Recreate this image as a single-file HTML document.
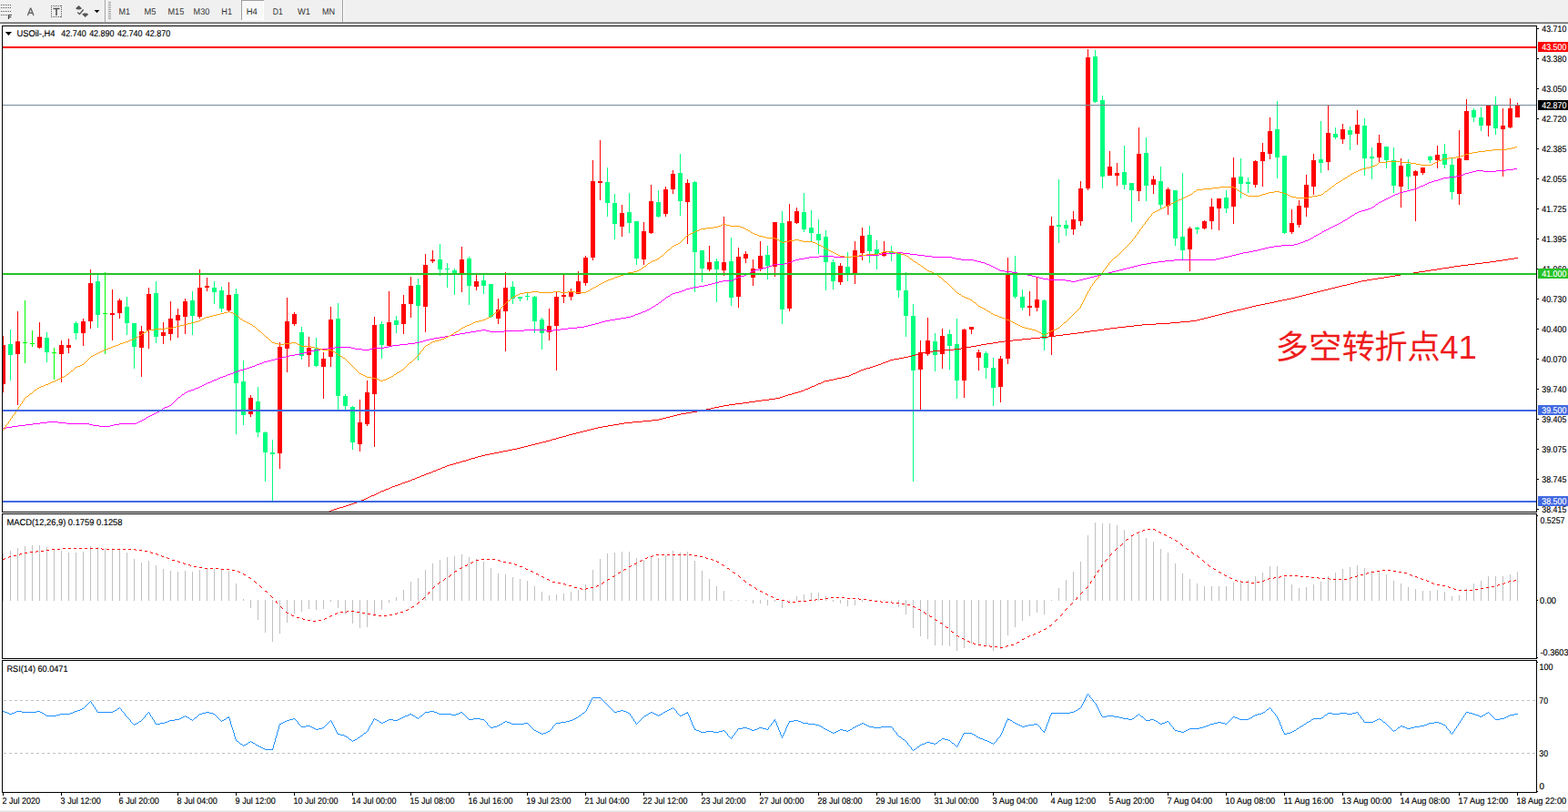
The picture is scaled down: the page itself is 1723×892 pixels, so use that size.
<!DOCTYPE html>
<html><head><meta charset="utf-8"><title>USOil-,H4</title>
<style>html,body{margin:0;padding:0;background:#fff;overflow:hidden}body{width:1723px;height:892px;font-family:"Liberation Sans",sans-serif}svg{display:block;position:absolute;left:0;top:0}text{font-family:"Liberation Sans",sans-serif;text-rendering:geometricPrecision}</style>
</head><body>
<svg width="1723" height="892" viewBox="0 0 1723 892">
<rect x="0" y="0" width="1723" height="892" fill="#ffffff"/>
<g shape-rendering="crispEdges">
<rect x="0" y="0" width="1723" height="24" fill="#f0f0f0"/>
<rect x="0" y="23" width="1723" height="1" fill="#f6f6f6"/>
<rect x="0" y="24" width="1723" height="1" fill="#a0a0a0"/>
<rect x="0" y="25" width="1723" height="1" fill="#696969"/>
<rect x="115" y="0" width="1" height="24" fill="#a0a0a0"/><rect x="116" y="0" width="1" height="24" fill="#ffffff"/>
<rect x="376" y="0" width="1" height="24" fill="#a0a0a0"/><rect x="377" y="0" width="1" height="24" fill="#ffffff"/>
<rect x="119" y="2" width="3" height="1" fill="#a0a0a0"/>
<rect x="119" y="4" width="3" height="1" fill="#a0a0a0"/>
<rect x="119" y="6" width="3" height="1" fill="#a0a0a0"/>
<rect x="119" y="8" width="3" height="1" fill="#a0a0a0"/>
<rect x="119" y="10" width="3" height="1" fill="#a0a0a0"/>
<rect x="119" y="12" width="3" height="1" fill="#a0a0a0"/>
<rect x="119" y="14" width="3" height="1" fill="#a0a0a0"/>
<rect x="119" y="16" width="3" height="1" fill="#a0a0a0"/>
<rect x="119" y="18" width="3" height="1" fill="#a0a0a0"/>
<rect x="119" y="20" width="3" height="1" fill="#a0a0a0"/>
<rect x="265" y="0" width="25" height="22" fill="#f8f8f8"/>
<rect x="265" y="0" width="25" height="1" fill="#a0a0a0"/><rect x="265" y="0" width="1" height="22" fill="#a0a0a0"/>
<rect x="289" y="1" width="1" height="21" fill="#ffffff"/><rect x="266" y="21" width="24" height="1" fill="#ffffff"/>
<rect x="1" y="5" width="1" height="1" fill="#555"/>
<rect x="3" y="5" width="1" height="1" fill="#555"/>
<rect x="5" y="5" width="1" height="1" fill="#555"/>
<rect x="7" y="5" width="1" height="1" fill="#555"/>
<rect x="9" y="5" width="1" height="1" fill="#555"/>
<rect x="11" y="5" width="1" height="1" fill="#555"/>
<rect x="1" y="8" width="1" height="1" fill="#555"/>
<rect x="3" y="8" width="1" height="1" fill="#555"/>
<rect x="5" y="8" width="1" height="1" fill="#555"/>
<rect x="7" y="8" width="1" height="1" fill="#555"/>
<rect x="9" y="8" width="1" height="1" fill="#555"/>
<rect x="11" y="8" width="1" height="1" fill="#555"/>
<rect x="1" y="12" width="1" height="1" fill="#555"/>
<rect x="3" y="12" width="1" height="1" fill="#555"/>
<rect x="5" y="12" width="1" height="1" fill="#555"/>
<rect x="7" y="12" width="1" height="1" fill="#555"/>
<rect x="9" y="12" width="1" height="1" fill="#555"/>
<rect x="11" y="12" width="1" height="1" fill="#555"/>
<rect x="1" y="16" width="1" height="1" fill="#555"/>
<rect x="3" y="16" width="1" height="1" fill="#555"/>
<rect x="5" y="16" width="1" height="1" fill="#555"/>
<rect x="7" y="16" width="1" height="1" fill="#555"/>
<rect x="56" y="6" width="1" height="1" fill="#555"/><rect x="56" y="18" width="1" height="1" fill="#555"/>
<rect x="58" y="6" width="1" height="1" fill="#555"/><rect x="58" y="18" width="1" height="1" fill="#555"/>
<rect x="60" y="6" width="1" height="1" fill="#555"/><rect x="60" y="18" width="1" height="1" fill="#555"/>
<rect x="62" y="6" width="1" height="1" fill="#555"/><rect x="62" y="18" width="1" height="1" fill="#555"/>
<rect x="64" y="6" width="1" height="1" fill="#555"/><rect x="64" y="18" width="1" height="1" fill="#555"/>
<rect x="66" y="6" width="1" height="1" fill="#555"/><rect x="66" y="18" width="1" height="1" fill="#555"/>
<rect x="56" y="6" width="1" height="1" fill="#555"/><rect x="67" y="6" width="1" height="1" fill="#555"/>
<rect x="56" y="8" width="1" height="1" fill="#555"/><rect x="67" y="8" width="1" height="1" fill="#555"/>
<rect x="56" y="10" width="1" height="1" fill="#555"/><rect x="67" y="10" width="1" height="1" fill="#555"/>
<rect x="56" y="12" width="1" height="1" fill="#555"/><rect x="67" y="12" width="1" height="1" fill="#555"/>
<rect x="56" y="14" width="1" height="1" fill="#555"/><rect x="67" y="14" width="1" height="1" fill="#555"/>
<rect x="56" y="16" width="1" height="1" fill="#555"/><rect x="67" y="16" width="1" height="1" fill="#555"/>
<rect x="56" y="18" width="1" height="1" fill="#555"/><rect x="67" y="18" width="1" height="1" fill="#555"/>
</g>
<path d="M9.5 21V16.5H13M9.5 18.7H12.3" stroke="#444" stroke-width="1.2" fill="none"/>
<path d="M30.4 17 L33.7 8.8 L37 17 M31.6 14.3 H35.8" stroke="#666" stroke-width="1.4" stroke-linejoin="bevel" fill="none"/>
<path d="M58.5 9.5 H65.5 M62 9.5 V17" stroke="#555" stroke-width="1.6" fill="none"/>
<path d="M83 9.2 L86.5 5.9 L90.1 9.2 L88 10.4 L85 10.4 Z" fill="#555"/>
<path d="M90.2 15.8 L92 14.5 L95.5 14.5 L97.2 15.8 L93.7 19 Z" fill="#555"/>
<path d="M85.2 13.6 L87.5 15.5 L91.7 10.5" stroke="#555" stroke-width="1.3" fill="none"/>
<path d="M103.5 11 H109.5 L106.5 14.2 Z" fill="#111"/>
<text x="130.5" y="16" font-size="9.8" fill="#333" textLength="12.5" lengthAdjust="spacingAndGlyphs">M1</text>
<text x="158.5" y="16" font-size="9.8" fill="#333" textLength="12.9" lengthAdjust="spacingAndGlyphs">M5</text>
<text x="184.5" y="16" font-size="9.8" fill="#333" textLength="17.8" lengthAdjust="spacingAndGlyphs">M15</text>
<text x="212.6" y="16" font-size="9.8" fill="#333" textLength="17.7" lengthAdjust="spacingAndGlyphs">M30</text>
<text x="243.3" y="16" font-size="9.8" fill="#333" textLength="11.7" lengthAdjust="spacingAndGlyphs">H1</text>
<text x="270.7" y="16" font-size="9.8" fill="#333" textLength="12.1" lengthAdjust="spacingAndGlyphs">H4</text>
<text x="299.8" y="16" font-size="9.8" fill="#333" textLength="11.0" lengthAdjust="spacingAndGlyphs">D1</text>
<text x="327" y="16" font-size="9.8" fill="#333" textLength="14.0" lengthAdjust="spacingAndGlyphs">W1</text>
<text x="354" y="16" font-size="9.8" fill="#333" textLength="14.1" lengthAdjust="spacingAndGlyphs">MN</text>
<g shape-rendering="crispEdges" fill="#000">
<rect x="2" y="28" width="1687" height="1"/>
<rect x="2" y="562" width="1687" height="1"/>
<rect x="2" y="28" width="1" height="535"/>
<rect x="1688" y="28" width="1" height="535"/>
<rect x="2" y="564" width="1687" height="1"/>
<rect x="2" y="723" width="1687" height="1"/>
<rect x="2" y="564" width="1" height="160"/>
<rect x="1688" y="564" width="1" height="160"/>
<rect x="2" y="725" width="1687" height="1"/>
<rect x="2" y="870" width="1687" height="1"/>
<rect x="2" y="725" width="1" height="146"/>
<rect x="1688" y="725" width="1" height="146"/>
<rect x="1689" y="31" width="2" height="1"/>
<rect x="1689" y="64" width="2" height="1"/>
<rect x="1689" y="97" width="2" height="1"/>
<rect x="1689" y="130" width="2" height="1"/>
<rect x="1689" y="163" width="2" height="1"/>
<rect x="1689" y="196" width="2" height="1"/>
<rect x="1689" y="229" width="2" height="1"/>
<rect x="1689" y="262" width="2" height="1"/>
<rect x="1689" y="295" width="2" height="1"/>
<rect x="1689" y="328" width="2" height="1"/>
<rect x="1689" y="361" width="2" height="1"/>
<rect x="1689" y="394" width="2" height="1"/>
<rect x="1689" y="427" width="2" height="1"/>
<rect x="1689" y="460" width="2" height="1"/>
<rect x="1689" y="493" width="2" height="1"/>
<rect x="1689" y="526" width="2" height="1"/>
<rect x="1689" y="559" width="2" height="1"/>
<rect x="1689" y="566" width="1" height="1"/>
<rect x="1689" y="659" width="1" height="1"/>
<rect x="1689" y="722" width="1" height="1"/>
<rect x="1689" y="727" width="1" height="1"/>
<rect x="1689" y="869" width="1" height="1"/>
<rect x="3" y="871" width="1" height="3"/>
<rect x="67" y="871" width="1" height="3"/>
<rect x="131" y="871" width="1" height="3"/>
<rect x="195" y="871" width="1" height="3"/>
<rect x="259" y="871" width="1" height="3"/>
<rect x="323" y="871" width="1" height="3"/>
<rect x="387" y="871" width="1" height="3"/>
<rect x="451" y="871" width="1" height="3"/>
<rect x="515" y="871" width="1" height="3"/>
<rect x="579" y="871" width="1" height="3"/>
<rect x="643" y="871" width="1" height="3"/>
<rect x="707" y="871" width="1" height="3"/>
<rect x="771" y="871" width="1" height="3"/>
<rect x="835" y="871" width="1" height="3"/>
<rect x="899" y="871" width="1" height="3"/>
<rect x="963" y="871" width="1" height="3"/>
<rect x="1027" y="871" width="1" height="3"/>
<rect x="1091" y="871" width="1" height="3"/>
<rect x="1155" y="871" width="1" height="3"/>
<rect x="1219" y="871" width="1" height="3"/>
<rect x="1283" y="871" width="1" height="3"/>
<rect x="1347" y="871" width="1" height="3"/>
<rect x="1411" y="871" width="1" height="3"/>
<rect x="1475" y="871" width="1" height="3"/>
<rect x="1539" y="871" width="1" height="3"/>
<rect x="1603" y="871" width="1" height="3"/>
<rect x="1667" y="871" width="1" height="3"/>
</g>
<rect x="0" y="890" width="1723" height="1" fill="#f3f3f3"/><rect x="0" y="891" width="1723" height="1" fill="#e1e1e1"/>
<g shape-rendering="crispEdges">
<rect x="3" y="369" width="1" height="62" fill="#ff0000"/>
<rect x="3" y="379" width="3" height="43" fill="#ff0000"/>
<rect x="11" y="362" width="1" height="56" fill="#00ff7f"/>
<rect x="9" y="378" width="5" height="12" fill="#00ff7f"/>
<rect x="19" y="342" width="1" height="103" fill="#ff0000"/>
<rect x="17" y="375" width="5" height="14" fill="#ff0000"/>
<rect x="27" y="330" width="1" height="69" fill="#00ff00"/>
<rect x="25" y="376" width="5" height="1" fill="#00ff00"/>
<rect x="35" y="363" width="1" height="18" fill="#00ff00"/>
<rect x="33" y="377" width="5" height="1" fill="#00ff00"/>
<rect x="43" y="354" width="1" height="29" fill="#ff0000"/>
<rect x="41" y="370" width="5" height="12" fill="#ff0000"/>
<rect x="51" y="365" width="1" height="33" fill="#00ff7f"/>
<rect x="49" y="371" width="5" height="16" fill="#00ff7f"/>
<rect x="59" y="382" width="1" height="35" fill="#00ff00"/>
<rect x="57" y="387" width="5" height="1" fill="#00ff00"/>
<rect x="67" y="374" width="1" height="46" fill="#ff0000"/>
<rect x="65" y="379" width="5" height="10" fill="#ff0000"/>
<rect x="75" y="372" width="1" height="16" fill="#ff0000"/>
<rect x="73" y="379" width="5" height="3" fill="#ff0000"/>
<rect x="83" y="353" width="1" height="20" fill="#00ff7f"/>
<rect x="81" y="355" width="5" height="11" fill="#00ff7f"/>
<rect x="91" y="350" width="1" height="30" fill="#ff0000"/>
<rect x="89" y="353" width="5" height="13" fill="#ff0000"/>
<rect x="99" y="296" width="1" height="65" fill="#ff0000"/>
<rect x="97" y="311" width="5" height="42" fill="#ff0000"/>
<rect x="107" y="302" width="1" height="58" fill="#00ff7f"/>
<rect x="105" y="309" width="5" height="37" fill="#00ff7f"/>
<rect x="115" y="299" width="1" height="90" fill="#00ff00"/>
<rect x="113" y="344" width="5" height="1" fill="#00ff00"/>
<rect x="123" y="318" width="1" height="56" fill="#ff0000"/>
<rect x="121" y="344" width="5" height="2" fill="#ff0000"/>
<rect x="131" y="328" width="1" height="22" fill="#ff0000"/>
<rect x="129" y="330" width="5" height="14" fill="#ff0000"/>
<rect x="139" y="326" width="1" height="42" fill="#00ff7f"/>
<rect x="137" y="337" width="5" height="18" fill="#00ff7f"/>
<rect x="147" y="355" width="1" height="50" fill="#00ff7f"/>
<rect x="145" y="355" width="5" height="26" fill="#00ff7f"/>
<rect x="155" y="358" width="1" height="56" fill="#ff0000"/>
<rect x="153" y="364" width="5" height="18" fill="#ff0000"/>
<rect x="163" y="316" width="1" height="67" fill="#ff0000"/>
<rect x="161" y="323" width="5" height="40" fill="#ff0000"/>
<rect x="171" y="309" width="1" height="68" fill="#00ff7f"/>
<rect x="169" y="322" width="5" height="48" fill="#00ff7f"/>
<rect x="179" y="354" width="1" height="24" fill="#ff0000"/>
<rect x="177" y="365" width="5" height="4" fill="#ff0000"/>
<rect x="187" y="331" width="1" height="43" fill="#ff0000"/>
<rect x="185" y="350" width="5" height="17" fill="#ff0000"/>
<rect x="195" y="339" width="1" height="32" fill="#ff0000"/>
<rect x="193" y="346" width="5" height="6" fill="#ff0000"/>
<rect x="203" y="328" width="1" height="39" fill="#ff0000"/>
<rect x="201" y="331" width="5" height="17" fill="#ff0000"/>
<rect x="211" y="320" width="1" height="48" fill="#00ff7f"/>
<rect x="209" y="330" width="5" height="17" fill="#00ff7f"/>
<rect x="219" y="296" width="1" height="54" fill="#ff0000"/>
<rect x="217" y="316" width="5" height="32" fill="#ff0000"/>
<rect x="227" y="305" width="1" height="15" fill="#ff0000"/>
<rect x="225" y="314" width="5" height="2" fill="#ff0000"/>
<rect x="235" y="309" width="1" height="25" fill="#00ff7f"/>
<rect x="233" y="316" width="5" height="5" fill="#00ff7f"/>
<rect x="243" y="315" width="1" height="28" fill="#00ff7f"/>
<rect x="241" y="319" width="5" height="20" fill="#00ff7f"/>
<rect x="251" y="310" width="1" height="32" fill="#ff0000"/>
<rect x="249" y="324" width="5" height="17" fill="#ff0000"/>
<rect x="259" y="317" width="1" height="160" fill="#00ff7f"/>
<rect x="257" y="323" width="5" height="98" fill="#00ff7f"/>
<rect x="267" y="396" width="1" height="71" fill="#00ff7f"/>
<rect x="265" y="419" width="5" height="37" fill="#00ff7f"/>
<rect x="275" y="434" width="1" height="24" fill="#ff0000"/>
<rect x="273" y="437" width="5" height="18" fill="#ff0000"/>
<rect x="283" y="425" width="1" height="55" fill="#00ff7f"/>
<rect x="281" y="441" width="5" height="34" fill="#00ff7f"/>
<rect x="291" y="474" width="1" height="55" fill="#00ff7f"/>
<rect x="289" y="475" width="5" height="22" fill="#00ff7f"/>
<rect x="299" y="483" width="1" height="67" fill="#00ff7f"/>
<rect x="297" y="497" width="5" height="2" fill="#00ff7f"/>
<rect x="307" y="376" width="1" height="139" fill="#ff0000"/>
<rect x="305" y="381" width="5" height="117" fill="#ff0000"/>
<rect x="315" y="327" width="1" height="82" fill="#ff0000"/>
<rect x="313" y="353" width="5" height="30" fill="#ff0000"/>
<rect x="323" y="343" width="1" height="15" fill="#ff0000"/>
<rect x="321" y="345" width="5" height="11" fill="#ff0000"/>
<rect x="331" y="359" width="1" height="36" fill="#00ff7f"/>
<rect x="329" y="365" width="5" height="26" fill="#00ff7f"/>
<rect x="339" y="370" width="1" height="33" fill="#ff0000"/>
<rect x="337" y="382" width="5" height="8" fill="#ff0000"/>
<rect x="347" y="371" width="1" height="32" fill="#00ff7f"/>
<rect x="345" y="383" width="5" height="19" fill="#00ff7f"/>
<rect x="355" y="387" width="1" height="51" fill="#ff0000"/>
<rect x="353" y="394" width="5" height="9" fill="#ff0000"/>
<rect x="363" y="337" width="1" height="66" fill="#ff0000"/>
<rect x="361" y="351" width="5" height="41" fill="#ff0000"/>
<rect x="371" y="333" width="1" height="117" fill="#00ff7f"/>
<rect x="369" y="350" width="5" height="85" fill="#00ff7f"/>
<rect x="379" y="433" width="1" height="17" fill="#00ff7f"/>
<rect x="377" y="435" width="5" height="11" fill="#00ff7f"/>
<rect x="387" y="446" width="1" height="48" fill="#00ff7f"/>
<rect x="385" y="447" width="5" height="39" fill="#00ff7f"/>
<rect x="395" y="439" width="1" height="57" fill="#ff0000"/>
<rect x="393" y="464" width="5" height="24" fill="#ff0000"/>
<rect x="403" y="418" width="1" height="50" fill="#ff0000"/>
<rect x="401" y="431" width="5" height="35" fill="#ff0000"/>
<rect x="411" y="348" width="1" height="143" fill="#ff0000"/>
<rect x="409" y="357" width="5" height="76" fill="#ff0000"/>
<rect x="419" y="353" width="1" height="41" fill="#00ff7f"/>
<rect x="417" y="356" width="5" height="23" fill="#00ff7f"/>
<rect x="427" y="320" width="1" height="60" fill="#ff0000"/>
<rect x="425" y="354" width="5" height="26" fill="#ff0000"/>
<rect x="435" y="347" width="1" height="19" fill="#00ff7f"/>
<rect x="433" y="352" width="5" height="5" fill="#00ff7f"/>
<rect x="443" y="324" width="1" height="43" fill="#ff0000"/>
<rect x="441" y="334" width="5" height="22" fill="#ff0000"/>
<rect x="451" y="304" width="1" height="45" fill="#ff0000"/>
<rect x="449" y="314" width="5" height="20" fill="#ff0000"/>
<rect x="459" y="306" width="1" height="90" fill="#00ff7f"/>
<rect x="457" y="313" width="5" height="23" fill="#00ff7f"/>
<rect x="467" y="279" width="1" height="86" fill="#ff0000"/>
<rect x="465" y="291" width="5" height="46" fill="#ff0000"/>
<rect x="475" y="275" width="1" height="14" fill="#ff0000"/>
<rect x="473" y="285" width="5" height="2" fill="#ff0000"/>
<rect x="483" y="268" width="1" height="35" fill="#00ff7f"/>
<rect x="481" y="285" width="5" height="11" fill="#00ff7f"/>
<rect x="491" y="289" width="1" height="27" fill="#00ff7f"/>
<rect x="489" y="295" width="5" height="1" fill="#00ff7f"/>
<rect x="499" y="295" width="1" height="29" fill="#00ff7f"/>
<rect x="497" y="297" width="5" height="3" fill="#00ff7f"/>
<rect x="507" y="271" width="1" height="50" fill="#ff0000"/>
<rect x="505" y="285" width="5" height="15" fill="#ff0000"/>
<rect x="515" y="282" width="1" height="53" fill="#00ff7f"/>
<rect x="513" y="284" width="5" height="30" fill="#00ff7f"/>
<rect x="523" y="302" width="1" height="17" fill="#ff0000"/>
<rect x="521" y="309" width="5" height="6" fill="#ff0000"/>
<rect x="531" y="302" width="1" height="21" fill="#00ff7f"/>
<rect x="529" y="308" width="5" height="6" fill="#00ff7f"/>
<rect x="539" y="312" width="1" height="37" fill="#00ff7f"/>
<rect x="537" y="312" width="5" height="36" fill="#00ff7f"/>
<rect x="547" y="328" width="1" height="28" fill="#ff0000"/>
<rect x="545" y="340" width="5" height="10" fill="#ff0000"/>
<rect x="555" y="299" width="1" height="87" fill="#ff0000"/>
<rect x="553" y="316" width="5" height="26" fill="#ff0000"/>
<rect x="563" y="309" width="1" height="25" fill="#00ff7f"/>
<rect x="561" y="315" width="5" height="13" fill="#00ff7f"/>
<rect x="571" y="326" width="1" height="5" fill="#00ff7f"/>
<rect x="569" y="326" width="5" height="2" fill="#00ff7f"/>
<rect x="579" y="322" width="1" height="8" fill="#00ff7f"/>
<rect x="577" y="325" width="5" height="1" fill="#00ff7f"/>
<rect x="587" y="325" width="1" height="41" fill="#00ff7f"/>
<rect x="585" y="326" width="5" height="27" fill="#00ff7f"/>
<rect x="595" y="349" width="1" height="35" fill="#00ff7f"/>
<rect x="593" y="351" width="5" height="15" fill="#00ff7f"/>
<rect x="603" y="339" width="1" height="35" fill="#ff0000"/>
<rect x="601" y="358" width="5" height="7" fill="#ff0000"/>
<rect x="611" y="320" width="1" height="87" fill="#ff0000"/>
<rect x="609" y="326" width="5" height="32" fill="#ff0000"/>
<rect x="619" y="302" width="1" height="31" fill="#ff0000"/>
<rect x="617" y="324" width="5" height="2" fill="#ff0000"/>
<rect x="627" y="317" width="1" height="13" fill="#ff0000"/>
<rect x="625" y="321" width="5" height="5" fill="#ff0000"/>
<rect x="635" y="298" width="1" height="25" fill="#ff0000"/>
<rect x="633" y="309" width="5" height="14" fill="#ff0000"/>
<rect x="643" y="281" width="1" height="33" fill="#ff0000"/>
<rect x="641" y="283" width="5" height="28" fill="#ff0000"/>
<rect x="651" y="176" width="1" height="110" fill="#ff0000"/>
<rect x="649" y="199" width="5" height="84" fill="#ff0000"/>
<rect x="659" y="154" width="1" height="66" fill="#ff0000"/>
<rect x="657" y="199" width="5" height="2" fill="#ff0000"/>
<rect x="667" y="184" width="1" height="54" fill="#00ff7f"/>
<rect x="665" y="200" width="5" height="23" fill="#00ff7f"/>
<rect x="675" y="213" width="1" height="50" fill="#00ff7f"/>
<rect x="673" y="223" width="5" height="23" fill="#00ff7f"/>
<rect x="683" y="225" width="1" height="35" fill="#ff0000"/>
<rect x="681" y="234" width="5" height="15" fill="#ff0000"/>
<rect x="691" y="212" width="1" height="44" fill="#00ff7f"/>
<rect x="689" y="233" width="5" height="12" fill="#00ff7f"/>
<rect x="699" y="243" width="1" height="48" fill="#00ff7f"/>
<rect x="697" y="243" width="5" height="41" fill="#00ff7f"/>
<rect x="707" y="244" width="1" height="47" fill="#ff0000"/>
<rect x="705" y="254" width="5" height="31" fill="#ff0000"/>
<rect x="715" y="203" width="1" height="54" fill="#ff0000"/>
<rect x="713" y="221" width="5" height="35" fill="#ff0000"/>
<rect x="723" y="209" width="1" height="30" fill="#00ff7f"/>
<rect x="721" y="222" width="5" height="16" fill="#00ff7f"/>
<rect x="731" y="205" width="1" height="33" fill="#ff0000"/>
<rect x="729" y="208" width="5" height="27" fill="#ff0000"/>
<rect x="739" y="187" width="1" height="26" fill="#ff0000"/>
<rect x="737" y="191" width="5" height="17" fill="#ff0000"/>
<rect x="747" y="169" width="1" height="68" fill="#00ff7f"/>
<rect x="745" y="190" width="5" height="31" fill="#00ff7f"/>
<rect x="755" y="197" width="1" height="71" fill="#ff0000"/>
<rect x="753" y="201" width="5" height="21" fill="#ff0000"/>
<rect x="763" y="199" width="1" height="122" fill="#00ff7f"/>
<rect x="761" y="200" width="5" height="77" fill="#00ff7f"/>
<rect x="771" y="275" width="1" height="35" fill="#00ff7f"/>
<rect x="769" y="275" width="5" height="20" fill="#00ff7f"/>
<rect x="779" y="270" width="1" height="28" fill="#ff0000"/>
<rect x="777" y="288" width="5" height="8" fill="#ff0000"/>
<rect x="787" y="284" width="1" height="48" fill="#00ff7f"/>
<rect x="785" y="287" width="5" height="9" fill="#00ff7f"/>
<rect x="795" y="238" width="1" height="65" fill="#ff0000"/>
<rect x="793" y="288" width="5" height="9" fill="#ff0000"/>
<rect x="803" y="261" width="1" height="75" fill="#00ff7f"/>
<rect x="801" y="287" width="5" height="40" fill="#00ff7f"/>
<rect x="811" y="272" width="1" height="66" fill="#ff0000"/>
<rect x="809" y="282" width="5" height="44" fill="#ff0000"/>
<rect x="819" y="276" width="1" height="13" fill="#ff0000"/>
<rect x="817" y="279" width="5" height="5" fill="#ff0000"/>
<rect x="827" y="285" width="1" height="29" fill="#ff0000"/>
<rect x="825" y="295" width="5" height="10" fill="#ff0000"/>
<rect x="835" y="265" width="1" height="33" fill="#ff0000"/>
<rect x="833" y="281" width="5" height="14" fill="#ff0000"/>
<rect x="843" y="270" width="1" height="37" fill="#00ff7f"/>
<rect x="841" y="280" width="5" height="12" fill="#00ff7f"/>
<rect x="851" y="244" width="1" height="60" fill="#ff0000"/>
<rect x="849" y="244" width="5" height="49" fill="#ff0000"/>
<rect x="859" y="232" width="1" height="124" fill="#00ff7f"/>
<rect x="857" y="245" width="5" height="95" fill="#00ff7f"/>
<rect x="867" y="224" width="1" height="118" fill="#ff0000"/>
<rect x="865" y="243" width="5" height="96" fill="#ff0000"/>
<rect x="875" y="228" width="1" height="18" fill="#ff0000"/>
<rect x="873" y="232" width="5" height="13" fill="#ff0000"/>
<rect x="883" y="212" width="1" height="43" fill="#00ff7f"/>
<rect x="881" y="233" width="5" height="19" fill="#00ff7f"/>
<rect x="891" y="231" width="1" height="34" fill="#00ff7f"/>
<rect x="889" y="250" width="5" height="6" fill="#00ff7f"/>
<rect x="899" y="241" width="1" height="38" fill="#00ff7f"/>
<rect x="897" y="257" width="5" height="7" fill="#00ff7f"/>
<rect x="907" y="253" width="1" height="66" fill="#00ff7f"/>
<rect x="905" y="260" width="5" height="28" fill="#00ff7f"/>
<rect x="915" y="285" width="1" height="33" fill="#00ff7f"/>
<rect x="913" y="288" width="5" height="21" fill="#00ff7f"/>
<rect x="923" y="289" width="1" height="24" fill="#ff0000"/>
<rect x="921" y="292" width="5" height="18" fill="#ff0000"/>
<rect x="931" y="277" width="1" height="32" fill="#00ff7f"/>
<rect x="929" y="293" width="5" height="7" fill="#00ff7f"/>
<rect x="939" y="265" width="1" height="47" fill="#ff0000"/>
<rect x="937" y="275" width="5" height="25" fill="#ff0000"/>
<rect x="947" y="250" width="1" height="36" fill="#ff0000"/>
<rect x="945" y="259" width="5" height="19" fill="#ff0000"/>
<rect x="955" y="248" width="1" height="41" fill="#00ff7f"/>
<rect x="953" y="258" width="5" height="18" fill="#00ff7f"/>
<rect x="963" y="264" width="1" height="32" fill="#00ff7f"/>
<rect x="961" y="274" width="5" height="5" fill="#00ff7f"/>
<rect x="971" y="265" width="1" height="17" fill="#ff0000"/>
<rect x="969" y="277" width="5" height="4" fill="#ff0000"/>
<rect x="979" y="270" width="1" height="17" fill="#00ff7f"/>
<rect x="977" y="277" width="5" height="1" fill="#00ff7f"/>
<rect x="987" y="278" width="1" height="49" fill="#00ff7f"/>
<rect x="985" y="278" width="5" height="41" fill="#00ff7f"/>
<rect x="995" y="299" width="1" height="71" fill="#00ff7f"/>
<rect x="993" y="319" width="5" height="28" fill="#00ff7f"/>
<rect x="1003" y="334" width="1" height="195" fill="#00ff7f"/>
<rect x="1001" y="347" width="5" height="60" fill="#00ff7f"/>
<rect x="1011" y="374" width="1" height="76" fill="#ff0000"/>
<rect x="1009" y="387" width="5" height="19" fill="#ff0000"/>
<rect x="1019" y="349" width="1" height="42" fill="#ff0000"/>
<rect x="1017" y="374" width="5" height="15" fill="#ff0000"/>
<rect x="1027" y="366" width="1" height="42" fill="#00ff7f"/>
<rect x="1025" y="375" width="5" height="15" fill="#00ff7f"/>
<rect x="1035" y="361" width="1" height="44" fill="#ff0000"/>
<rect x="1033" y="369" width="5" height="20" fill="#ff0000"/>
<rect x="1043" y="362" width="1" height="44" fill="#00ff7f"/>
<rect x="1041" y="367" width="5" height="13" fill="#00ff7f"/>
<rect x="1051" y="350" width="1" height="88" fill="#00ff7f"/>
<rect x="1049" y="378" width="5" height="40" fill="#00ff7f"/>
<rect x="1059" y="361" width="1" height="76" fill="#ff0000"/>
<rect x="1057" y="362" width="5" height="56" fill="#ff0000"/>
<rect x="1067" y="359" width="1" height="8" fill="#ff0000"/>
<rect x="1065" y="359" width="5" height="3" fill="#ff0000"/>
<rect x="1075" y="384" width="1" height="23" fill="#ff0000"/>
<rect x="1073" y="387" width="5" height="6" fill="#ff0000"/>
<rect x="1083" y="386" width="1" height="30" fill="#00ff7f"/>
<rect x="1081" y="388" width="5" height="16" fill="#00ff7f"/>
<rect x="1091" y="393" width="1" height="53" fill="#00ff7f"/>
<rect x="1089" y="404" width="5" height="22" fill="#00ff7f"/>
<rect x="1099" y="391" width="1" height="51" fill="#ff0000"/>
<rect x="1097" y="394" width="5" height="31" fill="#ff0000"/>
<rect x="1107" y="283" width="1" height="117" fill="#ff0000"/>
<rect x="1105" y="302" width="5" height="92" fill="#ff0000"/>
<rect x="1115" y="281" width="1" height="47" fill="#00ff7f"/>
<rect x="1113" y="300" width="5" height="26" fill="#00ff7f"/>
<rect x="1123" y="318" width="1" height="23" fill="#00ff7f"/>
<rect x="1121" y="326" width="5" height="12" fill="#00ff7f"/>
<rect x="1131" y="320" width="1" height="27" fill="#ff0000"/>
<rect x="1129" y="336" width="5" height="2" fill="#ff0000"/>
<rect x="1139" y="304" width="1" height="38" fill="#ff0000"/>
<rect x="1137" y="329" width="5" height="9" fill="#ff0000"/>
<rect x="1147" y="329" width="1" height="56" fill="#00ff7f"/>
<rect x="1145" y="330" width="5" height="42" fill="#00ff7f"/>
<rect x="1155" y="238" width="1" height="152" fill="#ff0000"/>
<rect x="1153" y="248" width="5" height="122" fill="#ff0000"/>
<rect x="1163" y="197" width="1" height="70" fill="#00ff7f"/>
<rect x="1161" y="247" width="5" height="2" fill="#00ff7f"/>
<rect x="1171" y="242" width="1" height="17" fill="#00ff7f"/>
<rect x="1169" y="247" width="5" height="4" fill="#00ff7f"/>
<rect x="1179" y="232" width="1" height="26" fill="#ff0000"/>
<rect x="1177" y="241" width="5" height="11" fill="#ff0000"/>
<rect x="1187" y="199" width="1" height="49" fill="#ff0000"/>
<rect x="1185" y="207" width="5" height="36" fill="#ff0000"/>
<rect x="1195" y="54" width="1" height="155" fill="#ff0000"/>
<rect x="1193" y="63" width="5" height="144" fill="#ff0000"/>
<rect x="1203" y="55" width="1" height="58" fill="#00ff7f"/>
<rect x="1201" y="62" width="5" height="50" fill="#00ff7f"/>
<rect x="1211" y="105" width="1" height="102" fill="#00ff7f"/>
<rect x="1209" y="110" width="5" height="84" fill="#00ff7f"/>
<rect x="1219" y="166" width="1" height="27" fill="#ff0000"/>
<rect x="1217" y="183" width="5" height="10" fill="#ff0000"/>
<rect x="1227" y="179" width="1" height="25" fill="#ff0000"/>
<rect x="1225" y="190" width="5" height="3" fill="#ff0000"/>
<rect x="1235" y="160" width="1" height="48" fill="#00ff7f"/>
<rect x="1233" y="189" width="5" height="14" fill="#00ff7f"/>
<rect x="1243" y="201" width="1" height="43" fill="#00ff7f"/>
<rect x="1241" y="201" width="5" height="8" fill="#00ff7f"/>
<rect x="1251" y="140" width="1" height="81" fill="#ff0000"/>
<rect x="1249" y="169" width="5" height="41" fill="#ff0000"/>
<rect x="1259" y="151" width="1" height="70" fill="#00ff7f"/>
<rect x="1257" y="168" width="5" height="36" fill="#00ff7f"/>
<rect x="1267" y="193" width="1" height="20" fill="#ff0000"/>
<rect x="1265" y="197" width="5" height="6" fill="#ff0000"/>
<rect x="1275" y="183" width="1" height="46" fill="#00ff7f"/>
<rect x="1273" y="199" width="5" height="26" fill="#00ff7f"/>
<rect x="1283" y="206" width="1" height="30" fill="#ff0000"/>
<rect x="1281" y="208" width="5" height="18" fill="#ff0000"/>
<rect x="1291" y="209" width="1" height="61" fill="#00ff7f"/>
<rect x="1289" y="209" width="5" height="53" fill="#00ff7f"/>
<rect x="1299" y="190" width="1" height="95" fill="#00ff7f"/>
<rect x="1297" y="260" width="5" height="15" fill="#00ff7f"/>
<rect x="1307" y="249" width="1" height="49" fill="#ff0000"/>
<rect x="1305" y="251" width="5" height="23" fill="#ff0000"/>
<rect x="1315" y="249" width="1" height="8" fill="#00ff7f"/>
<rect x="1313" y="250" width="5" height="2" fill="#00ff7f"/>
<rect x="1323" y="242" width="1" height="10" fill="#ff0000"/>
<rect x="1321" y="243" width="5" height="8" fill="#ff0000"/>
<rect x="1331" y="218" width="1" height="34" fill="#ff0000"/>
<rect x="1329" y="227" width="5" height="16" fill="#ff0000"/>
<rect x="1339" y="218" width="1" height="35" fill="#ff0000"/>
<rect x="1337" y="218" width="5" height="11" fill="#ff0000"/>
<rect x="1347" y="209" width="1" height="25" fill="#00ff7f"/>
<rect x="1345" y="217" width="5" height="12" fill="#00ff7f"/>
<rect x="1355" y="173" width="1" height="73" fill="#ff0000"/>
<rect x="1353" y="195" width="5" height="32" fill="#ff0000"/>
<rect x="1363" y="174" width="1" height="44" fill="#00ff7f"/>
<rect x="1361" y="194" width="5" height="8" fill="#00ff7f"/>
<rect x="1371" y="195" width="1" height="17" fill="#00ff7f"/>
<rect x="1369" y="200" width="5" height="2" fill="#00ff7f"/>
<rect x="1379" y="176" width="1" height="30" fill="#ff0000"/>
<rect x="1377" y="177" width="5" height="26" fill="#ff0000"/>
<rect x="1387" y="157" width="1" height="48" fill="#ff0000"/>
<rect x="1385" y="167" width="5" height="10" fill="#ff0000"/>
<rect x="1395" y="129" width="1" height="46" fill="#ff0000"/>
<rect x="1393" y="144" width="5" height="25" fill="#ff0000"/>
<rect x="1403" y="111" width="1" height="85" fill="#00ff7f"/>
<rect x="1401" y="142" width="5" height="31" fill="#00ff7f"/>
<rect x="1411" y="171" width="1" height="86" fill="#00ff7f"/>
<rect x="1409" y="171" width="5" height="85" fill="#00ff7f"/>
<rect x="1419" y="230" width="1" height="27" fill="#ff0000"/>
<rect x="1417" y="245" width="5" height="10" fill="#ff0000"/>
<rect x="1427" y="220" width="1" height="30" fill="#ff0000"/>
<rect x="1425" y="226" width="5" height="21" fill="#ff0000"/>
<rect x="1435" y="192" width="1" height="46" fill="#ff0000"/>
<rect x="1433" y="203" width="5" height="25" fill="#ff0000"/>
<rect x="1443" y="169" width="1" height="45" fill="#ff0000"/>
<rect x="1441" y="176" width="5" height="29" fill="#ff0000"/>
<rect x="1451" y="133" width="1" height="57" fill="#00ff7f"/>
<rect x="1449" y="175" width="5" height="4" fill="#00ff7f"/>
<rect x="1459" y="115" width="1" height="72" fill="#ff0000"/>
<rect x="1457" y="146" width="5" height="32" fill="#ff0000"/>
<rect x="1467" y="140" width="1" height="13" fill="#00ff7f"/>
<rect x="1465" y="147" width="5" height="4" fill="#00ff7f"/>
<rect x="1475" y="136" width="1" height="22" fill="#ff0000"/>
<rect x="1473" y="142" width="5" height="11" fill="#ff0000"/>
<rect x="1483" y="139" width="1" height="26" fill="#00ff7f"/>
<rect x="1481" y="143" width="5" height="5" fill="#00ff7f"/>
<rect x="1491" y="121" width="1" height="38" fill="#ff0000"/>
<rect x="1489" y="137" width="5" height="10" fill="#ff0000"/>
<rect x="1499" y="130" width="1" height="63" fill="#00ff7f"/>
<rect x="1497" y="138" width="5" height="36" fill="#00ff7f"/>
<rect x="1507" y="162" width="1" height="35" fill="#00ff7f"/>
<rect x="1505" y="172" width="5" height="2" fill="#00ff7f"/>
<rect x="1515" y="148" width="1" height="31" fill="#ff0000"/>
<rect x="1513" y="157" width="5" height="16" fill="#ff0000"/>
<rect x="1523" y="161" width="1" height="24" fill="#00ff7f"/>
<rect x="1521" y="161" width="5" height="15" fill="#00ff7f"/>
<rect x="1531" y="162" width="1" height="50" fill="#00ff7f"/>
<rect x="1529" y="176" width="5" height="28" fill="#00ff7f"/>
<rect x="1539" y="174" width="1" height="54" fill="#ff0000"/>
<rect x="1537" y="182" width="5" height="23" fill="#ff0000"/>
<rect x="1547" y="175" width="1" height="33" fill="#00ff7f"/>
<rect x="1545" y="180" width="5" height="14" fill="#00ff7f"/>
<rect x="1555" y="187" width="1" height="56" fill="#ff0000"/>
<rect x="1553" y="188" width="5" height="5" fill="#ff0000"/>
<rect x="1563" y="184" width="1" height="8" fill="#ff0000"/>
<rect x="1561" y="184" width="5" height="6" fill="#ff0000"/>
<rect x="1571" y="171" width="1" height="8" fill="#00ff7f"/>
<rect x="1569" y="172" width="5" height="4" fill="#00ff7f"/>
<rect x="1579" y="160" width="1" height="25" fill="#ff0000"/>
<rect x="1577" y="170" width="5" height="6" fill="#ff0000"/>
<rect x="1587" y="158" width="1" height="27" fill="#00ff7f"/>
<rect x="1585" y="169" width="5" height="12" fill="#00ff7f"/>
<rect x="1595" y="174" width="1" height="45" fill="#00ff7f"/>
<rect x="1593" y="181" width="5" height="30" fill="#00ff7f"/>
<rect x="1603" y="143" width="1" height="82" fill="#ff0000"/>
<rect x="1601" y="174" width="5" height="39" fill="#ff0000"/>
<rect x="1611" y="109" width="1" height="67" fill="#ff0000"/>
<rect x="1609" y="122" width="5" height="54" fill="#ff0000"/>
<rect x="1619" y="119" width="1" height="15" fill="#00ff7f"/>
<rect x="1617" y="121" width="5" height="8" fill="#00ff7f"/>
<rect x="1627" y="118" width="1" height="26" fill="#00ff7f"/>
<rect x="1625" y="129" width="5" height="9" fill="#00ff7f"/>
<rect x="1635" y="115" width="1" height="35" fill="#ff0000"/>
<rect x="1633" y="115" width="5" height="23" fill="#ff0000"/>
<rect x="1643" y="106" width="1" height="42" fill="#00ff7f"/>
<rect x="1641" y="116" width="5" height="25" fill="#00ff7f"/>
<rect x="1651" y="119" width="1" height="75" fill="#ff0000"/>
<rect x="1649" y="138" width="5" height="4" fill="#ff0000"/>
<rect x="1659" y="108" width="1" height="33" fill="#ff0000"/>
<rect x="1657" y="119" width="5" height="21" fill="#ff0000"/>
<rect x="1667" y="113" width="1" height="16" fill="#ff0000"/>
<rect x="1665" y="115" width="5" height="14" fill="#ff0000"/>
<path d="M1664 283h4v1h-4zM1657 284h7v1h-7zM1651 285h6v1h-6zM1644 286h7v1h-7zM1637 287h7v1h-7zM1629 288h8v1h-8zM1621 289h8v1h-8zM1613 290h8v1h-8zM1605 291h8v1h-8zM1598 292h7v1h-7zM1592 293h6v1h-6zM1585 294h7v1h-7zM1579 295h6v1h-6zM1572 296h7v1h-7zM1566 297h6v1h-6zM1559 298h7v1h-7zM1553 299h6v1h-6zM1546 300h7v1h-7zM1539 301h7v1h-7zM1533 302h6v1h-6zM1527 303h6v1h-6zM1521 304h6v1h-6zM1514 305h7v1h-7zM1508 306h6v1h-6zM1502 307h6v1h-6zM1496 308h6v1h-6zM1492 309h4v1h-4zM1488 310h4v1h-4zM1484 311h4v1h-4zM1480 312h4v1h-4zM1475 313h5v1h-5zM1471 314h4v1h-4zM1467 315h4v1h-4zM1463 316h4v1h-4zM1459 317h4v1h-4zM1455 318h4v1h-4zM1451 319h4v1h-4zM1447 320h4v1h-4zM1443 321h4v1h-4zM1439 322h4v1h-4zM1435 323h4v1h-4zM1431 324h4v1h-4zM1427 325h4v1h-4zM1423 326h4v1h-4zM1419 327h4v1h-4zM1414 328h5v1h-5zM1409 329h5v1h-5zM1404 330h5v1h-5zM1400 331h4v1h-4zM1395 332h5v1h-5zM1390 333h5v1h-5zM1385 334h5v1h-5zM1380 335h5v1h-5zM1376 336h4v1h-4zM1372 337h4v1h-4zM1368 338h4v1h-4zM1364 339h4v1h-4zM1359 340h5v1h-5zM1355 341h4v1h-4zM1351 342h4v1h-4zM1347 343h4v1h-4zM1343 344h4v1h-4zM1339 345h4v1h-4zM1335 346h4v1h-4zM1331 347h4v1h-4zM1327 348h4v1h-4zM1323 349h4v1h-4zM1319 350h4v1h-4zM1315 351h4v1h-4zM1308 352h7v1h-7zM1297 353h11v1h-11zM1286 354h11v1h-11zM1270 355h16v1h-16zM1255 356h15v1h-15zM1246 357h9v1h-9zM1237 358h9v1h-9zM1228 359h9v1h-9zM1220 360h8v1h-8zM1213 361h7v1h-7zM1206 362h7v1h-7zM1198 363h8v1h-8zM1191 364h7v1h-7zM1184 365h7v1h-7zM1176 366h8v1h-8zM1168 367h8v1h-8zM1160 368h8v1h-8zM1152 369h8v1h-8zM1143 370h9v1h-9zM1133 371h10v1h-10zM1123 372h10v1h-10zM1113 373h10v1h-10zM1104 374h9v1h-9zM1097 375h7v1h-7zM1091 376h6v1h-6zM1084 377h7v1h-7zM1078 378h6v1h-6zM1073 379h5v1h-5zM1067 380h6v1h-6zM1062 381h5v1h-5zM1056 382h6v1h-6zM1048 383h8v1h-8zM1036 384h12v1h-12zM1025 385h11v1h-11zM1020 386h5v1h-5zM1014 387h6v1h-6zM1010 388h4v1h-4zM1006 389h4v1h-4zM1002 390h4v1h-4zM998 391h4v1h-4zM993 392h5v1h-5zM988 393h5v1h-5zM982 394h6v1h-6zM978 395h4v1h-4zM976 396h2v1h-2zM973 397h3v1h-3zM970 398h3v1h-3zM968 399h2v1h-2zM965 400h3v1h-3zM962 401h3v1h-3zM959 402h3v1h-3zM956 403h3v1h-3zM952 404h4v1h-4zM949 405h3v1h-3zM946 406h3v1h-3zM944 407h2v1h-2zM942 408h2v1h-2zM940 409h2v1h-2zM937 410h3v1h-3zM935 411h2v1h-2zM933 412h2v1h-2zM929 413h4v1h-4zM925 414h4v1h-4zM920 415h5v1h-5zM916 416h4v1h-4zM911 417h5v1h-5zM906 418h5v1h-5zM904 419h2v1h-2zM902 420h2v1h-2zM899 421h3v1h-3zM897 422h2v1h-2zM895 423h2v1h-2zM892 424h3v1h-3zM890 425h2v1h-2zM888 426h2v1h-2zM885 427h3v1h-3zM883 428h2v1h-2zM880 429h3v1h-3zM877 430h3v1h-3zM873 431h4v1h-4zM870 432h3v1h-3zM866 433h4v1h-4zM863 434h3v1h-3zM860 435h3v1h-3zM857 436h3v1h-3zM852 437h5v1h-5zM845 438h7v1h-7zM837 439h8v1h-8zM830 440h7v1h-7zM823 441h7v1h-7zM816 442h7v1h-7zM808 443h8v1h-8zM801 444h7v1h-7zM795 445h6v1h-6zM790 446h5v1h-5zM785 447h5v1h-5zM781 448h4v1h-4zM776 449h5v1h-5zM771 450h5v1h-5zM766 451h5v1h-5zM760 452h6v1h-6zM754 453h6v1h-6zM748 454h6v1h-6zM744 455h4v1h-4zM740 456h4v1h-4zM736 457h4v1h-4zM732 458h4v1h-4zM728 459h4v1h-4zM724 460h4v1h-4zM716 461h8v1h-8zM706 462h10v1h-10zM695 463h11v1h-11zM686 464h9v1h-9zM680 465h6v1h-6zM674 466h6v1h-6zM668 467h6v1h-6zM662 468h6v1h-6zM657 469h5v1h-5zM653 470h4v1h-4zM649 471h4v1h-4zM645 472h4v1h-4zM641 473h4v1h-4zM637 474h4v1h-4zM633 475h4v1h-4zM629 476h4v1h-4zM625 477h4v1h-4zM622 478h3v1h-3zM618 479h4v1h-4zM614 480h4v1h-4zM611 481h3v1h-3zM607 482h4v1h-4zM604 483h3v1h-3zM600 484h4v1h-4zM596 485h4v1h-4zM592 486h4v1h-4zM588 487h4v1h-4zM584 488h4v1h-4zM580 489h4v1h-4zM576 490h4v1h-4zM572 491h4v1h-4zM568 492h4v1h-4zM563 493h5v1h-5zM558 494h5v1h-5zM553 495h5v1h-5zM548 496h5v1h-5zM543 497h5v1h-5zM538 498h5v1h-5zM533 499h5v1h-5zM529 500h4v1h-4zM525 501h4v1h-4zM522 502h3v1h-3zM518 503h4v1h-4zM515 504h3v1h-3zM512 505h3v1h-3zM508 506h4v1h-4zM505 507h3v1h-3zM501 508h4v1h-4zM498 509h3v1h-3zM494 510h4v1h-4zM491 511h3v1h-3zM489 512h2v1h-2zM486 513h3v1h-3zM484 514h2v1h-2zM481 515h3v1h-3zM479 516h2v1h-2zM476 517h3v1h-3zM474 518h2v1h-2zM471 519h3v1h-3zM468 520h3v1h-3zM466 521h2v1h-2zM463 522h3v1h-3zM461 523h2v1h-2zM458 524h3v1h-3zM456 525h2v1h-2zM453 526h3v1h-3zM451 527h2v1h-2zM448 528h3v1h-3zM445 529h3v1h-3zM442 530h3v1h-3zM440 531h2v1h-2zM437 532h3v1h-3zM434 533h3v1h-3zM431 534h3v1h-3zM429 535h2v1h-2zM427 536h2v1h-2zM424 537h3v1h-3zM422 538h2v1h-2zM419 539h3v1h-3zM417 540h2v1h-2zM415 541h2v1h-2zM413 542h2v1h-2zM411 543h2v1h-2zM408 544h3v1h-3zM406 545h2v1h-2zM404 546h2v1h-2zM402 547h2v1h-2zM400 548h2v1h-2zM397 549h3v1h-3zM395 550h2v1h-2zM392 551h3v1h-3zM389 552h3v1h-3zM386 553h3v1h-3zM383 554h3v1h-3zM380 555h3v1h-3zM377 556h3v1h-3zM373 557h4v1h-4zM370 558h3v1h-3zM367 559h3v1h-3zM364 560h3v1h-3zM362 561h2v1h-2z" fill="#ff0000"/>
<path d="M1663 185h4v1h-4zM1655 186h8v1h-8zM1622 187h8v1h-8zM1644 187h11v1h-11zM1618 188h4v1h-4zM1630 188h14v1h-14zM1614 189h4v1h-4zM1610 190h4v1h-4zM1608 191h2v1h-2zM1605 192h3v1h-3zM1600 193h5v1h-5zM1592 194h8v1h-8zM1586 195h6v1h-6zM1583 196h3v1h-3zM1580 197h3v1h-3zM1576 198h4v1h-4zM1573 199h3v1h-3zM1570 200h3v1h-3zM1568 201h2v1h-2zM1566 202h2v1h-2zM1564 203h2v1h-2zM1561 204h3v1h-3zM1559 205h2v1h-2zM1557 206h2v1h-2zM1554 207h3v1h-3zM1550 208h4v1h-4zM1546 209h4v1h-4zM1542 210h4v1h-4zM1538 211h4v1h-4zM1536 212h2v1h-2zM1533 213h3v1h-3zM1531 214h2v1h-2zM1529 215h2v1h-2zM1527 216h2v1h-2zM1525 217h2v1h-2zM1523 218h2v1h-2zM1521 219h2v1h-2zM1519 220h2v1h-2zM1517 221h2v1h-2zM1515 222h2v1h-2zM1514 223h1v1h-1zM1512 224h2v1h-2zM1511 225h1v1h-1zM1510 226h1v1h-1zM1508 227h2v1h-2zM1506 228h2v1h-2zM1503 229h3v1h-3zM1500 230h3v1h-3zM1496 231h4v1h-4zM1493 232h3v1h-3zM1491 233h2v1h-2zM1489 234h2v1h-2zM1488 235h1v1h-1zM1486 236h2v1h-2zM1484 237h2v1h-2zM1483 238h1v1h-1zM1481 239h2v1h-2zM1480 240h1v1h-1zM1478 241h2v1h-2zM1476 242h2v1h-2zM1475 243h1v1h-1zM1473 244h2v1h-2zM1471 245h2v1h-2zM1469 246h2v1h-2zM1467 247h2v1h-2zM1465 248h2v1h-2zM1463 249h2v1h-2zM1461 250h2v1h-2zM1459 251h2v1h-2zM1457 252h2v1h-2zM1455 253h2v1h-2zM1453 254h2v1h-2zM1452 255h1v1h-1zM1450 256h2v1h-2zM1448 257h2v1h-2zM1446 258h2v1h-2zM1444 259h2v1h-2zM1443 260h1v1h-1zM1441 261h2v1h-2zM1439 262h2v1h-2zM1437 263h2v1h-2zM1434 264h3v1h-3zM1432 265h2v1h-2zM1429 266h3v1h-3zM1426 267h3v1h-3zM1422 268h4v1h-4zM1408 269h14v1h-14zM1400 270h8v1h-8zM1394 271h6v1h-6zM1390 272h4v1h-4zM1386 273h4v1h-4zM1382 274h4v1h-4zM1377 275h5v1h-5zM1372 276h5v1h-5zM984 277h8v1h-8zM1366 277h6v1h-6zM970 278h14v1h-14zM992 278h8v1h-8zM1362 278h4v1h-4zM966 279h4v1h-4zM1000 279h8v1h-8zM1358 279h4v1h-4zM948 280h18v1h-18zM1008 280h8v1h-8zM1354 280h4v1h-4zM900 281h16v1h-16zM936 281h12v1h-12zM1016 281h8v1h-8zM1350 281h4v1h-4zM889 282h11v1h-11zM916 282h20v1h-20zM1024 282h22v1h-22zM1345 282h5v1h-5zM884 283h5v1h-5zM1046 283h4v1h-4zM1341 283h4v1h-4zM878 284h6v1h-6zM1050 284h6v1h-6zM1336 284h5v1h-5zM874 285h4v1h-4zM1056 285h14v1h-14zM1290 285h46v1h-46zM871 286h3v1h-3zM1070 286h4v1h-4zM1280 286h10v1h-10zM869 287h2v1h-2zM1074 287h4v1h-4zM1272 287h8v1h-8zM866 288h3v1h-3zM1078 288h4v1h-4zM1265 288h7v1h-7zM862 289h4v1h-4zM1082 289h2v1h-2zM1260 289h5v1h-5zM850 290h12v1h-12zM1084 290h3v1h-3zM1254 290h6v1h-6zM848 291h2v1h-2zM1087 291h2v1h-2zM1250 291h4v1h-4zM845 292h3v1h-3zM1089 292h2v1h-2zM1246 292h4v1h-4zM842 293h3v1h-3zM1091 293h2v1h-2zM1242 293h4v1h-4zM838 294h4v1h-4zM1093 294h2v1h-2zM1238 294h4v1h-4zM834 295h4v1h-4zM1095 295h2v1h-2zM1234 295h4v1h-4zM830 296h4v1h-4zM1097 296h2v1h-2zM1230 296h4v1h-4zM827 297h3v1h-3zM1099 297h5v1h-5zM1226 297h4v1h-4zM825 298h2v1h-2zM1104 298h8v1h-8zM1222 298h4v1h-4zM824 299h1v1h-1zM1112 299h6v1h-6zM1218 299h4v1h-4zM822 300h2v1h-2zM1118 300h6v1h-6zM1214 300h4v1h-4zM820 301h2v1h-2zM1124 301h5v1h-5zM1210 301h4v1h-4zM818 302h2v1h-2zM1129 302h5v1h-5zM1206 302h4v1h-4zM814 303h4v1h-4zM1134 303h4v1h-4zM1202 303h4v1h-4zM811 304h3v1h-3zM1138 304h4v1h-4zM1198 304h4v1h-4zM809 305h2v1h-2zM1142 305h4v1h-4zM1194 305h4v1h-4zM807 306h2v1h-2zM1146 306h6v1h-6zM1190 306h4v1h-4zM805 307h2v1h-2zM1152 307h19v1h-19zM1186 307h4v1h-4zM794 308h11v1h-11zM1171 308h6v1h-6zM1182 308h4v1h-4zM790 309h4v1h-4zM1177 309h5v1h-5zM786 310h4v1h-4zM782 311h4v1h-4zM778 312h4v1h-4zM774 313h4v1h-4zM768 314h6v1h-6zM762 315h6v1h-6zM758 316h4v1h-4zM754 317h4v1h-4zM752 318h2v1h-2zM749 319h3v1h-3zM746 320h3v1h-3zM742 321h4v1h-4zM739 322h3v1h-3zM737 323h2v1h-2zM736 324h1v1h-1zM734 325h2v1h-2zM732 326h2v1h-2zM731 327h1v1h-1zM730 328h1v1h-1zM728 329h2v1h-2zM727 330h1v1h-1zM726 331h1v1h-1zM724 332h2v1h-2zM723 333h1v1h-1zM721 334h2v1h-2zM720 335h1v1h-1zM718 336h2v1h-2zM716 337h2v1h-2zM715 338h1v1h-1zM713 339h2v1h-2zM711 340h2v1h-2zM709 341h2v1h-2zM706 342h3v1h-3zM704 343h2v1h-2zM701 344h3v1h-3zM698 345h3v1h-3zM696 346h2v1h-2zM693 347h3v1h-3zM688 348h5v1h-5zM682 349h6v1h-6zM676 350h6v1h-6zM670 351h6v1h-6zM665 352h5v1h-5zM661 353h4v1h-4zM658 354h3v1h-3zM654 355h4v1h-4zM650 356h4v1h-4zM646 357h4v1h-4zM642 358h4v1h-4zM634 359h8v1h-8zM624 360h10v1h-10zM616 361h8v1h-8zM529 362h5v1h-5zM576 362h24v1h-24zM608 362h8v1h-8zM523 363h6v1h-6zM534 363h4v1h-4zM554 363h22v1h-22zM600 363h8v1h-8zM517 364h6v1h-6zM538 364h16v1h-16zM511 365h6v1h-6zM505 366h6v1h-6zM500 367h5v1h-5zM494 368h6v1h-6zM489 369h5v1h-5zM483 370h6v1h-6zM477 371h6v1h-6zM472 372h5v1h-5zM468 373h4v1h-4zM465 374h3v1h-3zM461 375h4v1h-4zM456 376h5v1h-5zM448 377h8v1h-8zM439 378h9v1h-9zM431 379h8v1h-8zM427 380h4v1h-4zM368 381h18v1h-18zM422 381h5v1h-5zM360 382h8v1h-8zM386 382h4v1h-4zM410 382h12v1h-12zM352 383h8v1h-8zM390 383h8v1h-8zM406 383h4v1h-4zM346 384h6v1h-6zM398 384h8v1h-8zM342 385h4v1h-4zM338 386h4v1h-4zM334 387h4v1h-4zM329 388h5v1h-5zM324 389h5v1h-5zM318 390h6v1h-6zM314 391h4v1h-4zM310 392h4v1h-4zM306 393h4v1h-4zM302 394h4v1h-4zM298 395h4v1h-4zM294 396h4v1h-4zM290 397h4v1h-4zM288 398h2v1h-2zM285 399h3v1h-3zM282 400h3v1h-3zM280 401h2v1h-2zM277 402h3v1h-3zM274 403h3v1h-3zM271 404h3v1h-3zM268 405h3v1h-3zM264 406h4v1h-4zM261 407h3v1h-3zM258 408h3v1h-3zM256 409h2v1h-2zM253 410h3v1h-3zM250 411h3v1h-3zM248 412h2v1h-2zM245 413h3v1h-3zM242 414h3v1h-3zM240 415h2v1h-2zM238 416h2v1h-2zM235 417h3v1h-3zM233 418h2v1h-2zM231 419h2v1h-2zM228 420h3v1h-3zM226 421h2v1h-2zM224 422h2v1h-2zM222 423h2v1h-2zM220 424h2v1h-2zM218 425h2v1h-2zM215 426h3v1h-3zM213 427h2v1h-2zM210 428h3v1h-3zM207 429h3v1h-3zM205 430h2v1h-2zM203 431h2v1h-2zM202 432h1v1h-1zM200 433h2v1h-2zM199 434h1v1h-1zM198 435h1v1h-1zM196 436h2v1h-2zM195 437h1v1h-1zM194 438h1v1h-1zM193 439h1v1h-1zM192 440h1v1h-1zM191 441h1v1h-1zM190 442h1v1h-1zM189 443h1v1h-1zM188 444h1v1h-1zM186 445h2v1h-2zM184 446h2v1h-2zM181 447h3v1h-3zM179 448h2v1h-2zM178 449h1v1h-1zM176 450h2v1h-2zM175 451h1v1h-1zM173 452h2v1h-2zM171 453h2v1h-2zM169 454h2v1h-2zM167 455h2v1h-2zM165 456h2v1h-2zM163 457h2v1h-2zM161 458h2v1h-2zM160 459h1v1h-1zM158 460h2v1h-2zM156 461h2v1h-2zM154 462h2v1h-2zM52 463h12v1h-12zM152 463h2v1h-2zM44 464h8v1h-8zM64 464h9v1h-9zM150 464h2v1h-2zM36 465h8v1h-8zM73 465h25v1h-25zM131 465h19v1h-19zM28 466h8v1h-8zM98 466h4v1h-4zM125 466h6v1h-6zM20 467h8v1h-8zM102 467h7v1h-7zM121 467h4v1h-4zM13 468h7v1h-7zM109 468h12v1h-12zM7 469h6v1h-6zM3 470h4v1h-4z" fill="#ff00ff"/>
<path d="M1665 161h2v1h-2zM1661 162h4v1h-4zM1656 163h5v1h-5zM1640 164h16v1h-16zM1632 165h8v1h-8zM1624 166h8v1h-8zM1618 167h6v1h-6zM1614 168h4v1h-4zM1610 169h4v1h-4zM1608 170h2v1h-2zM1605 171h3v1h-3zM1600 172h5v1h-5zM1592 173h8v1h-8zM1586 174h6v1h-6zM1584 175h2v1h-2zM1581 176h3v1h-3zM1524 177h16v1h-16zM1579 177h2v1h-2zM1515 178h9v1h-9zM1540 178h10v1h-10zM1577 178h2v1h-2zM1514 179h1v1h-1zM1550 179h6v1h-6zM1575 179h2v1h-2zM1513 180h1v1h-1zM1556 180h5v1h-5zM1573 180h2v1h-2zM1511 181h2v1h-2zM1561 181h12v1h-12zM1508 182h3v1h-3zM1505 183h3v1h-3zM1501 184h4v1h-4zM1497 185h4v1h-4zM1494 186h3v1h-3zM1492 187h2v1h-2zM1490 188h2v1h-2zM1488 189h2v1h-2zM1486 190h2v1h-2zM1484 191h2v1h-2zM1483 192h1v1h-1zM1481 193h2v1h-2zM1480 194h1v1h-1zM1478 195h2v1h-2zM1476 196h2v1h-2zM1475 197h1v1h-1zM1473 198h2v1h-2zM1472 199h1v1h-1zM1470 200h2v1h-2zM1468 201h2v1h-2zM1467 202h1v1h-1zM1466 203h1v1h-1zM1464 204h2v1h-2zM1340 205h16v1h-16zM1463 205h1v1h-1zM1332 206h8v1h-8zM1356 206h2v1h-2zM1462 206h1v1h-1zM1322 207h10v1h-10zM1358 207h1v1h-1zM1460 207h2v1h-2zM1315 208h7v1h-7zM1359 208h1v1h-1zM1459 208h1v1h-1zM1314 209h1v1h-1zM1360 209h2v1h-2zM1458 209h1v1h-1zM1312 210h2v1h-2zM1362 210h1v1h-1zM1400 210h6v1h-6zM1456 210h2v1h-2zM1311 211h1v1h-1zM1363 211h2v1h-2zM1394 211h6v1h-6zM1406 211h4v1h-4zM1455 211h1v1h-1zM1310 212h1v1h-1zM1365 212h2v1h-2zM1391 212h3v1h-3zM1410 212h3v1h-3zM1454 212h1v1h-1zM1308 213h2v1h-2zM1367 213h2v1h-2zM1387 213h4v1h-4zM1413 213h2v1h-2zM1452 213h2v1h-2zM1306 214h2v1h-2zM1369 214h2v1h-2zM1384 214h3v1h-3zM1415 214h2v1h-2zM1448 214h4v1h-4zM1304 215h2v1h-2zM1371 215h13v1h-13zM1417 215h2v1h-2zM1442 215h6v1h-6zM1302 216h2v1h-2zM1419 216h5v1h-5zM1438 216h4v1h-4zM1300 217h2v1h-2zM1424 217h14v1h-14zM1298 218h2v1h-2zM1295 219h3v1h-3zM1293 220h2v1h-2zM1291 221h2v1h-2zM1289 222h2v1h-2zM1287 223h2v1h-2zM1285 224h2v1h-2zM1283 225h2v1h-2zM1281 226h2v1h-2zM1279 227h2v1h-2zM1277 228h2v1h-2zM1275 229h2v1h-2zM1273 230h2v1h-2zM1271 231h2v1h-2zM1269 232h2v1h-2zM1267 233h2v1h-2zM1266 234h1v1h-1zM1265 235h1v1h-1zM1265 236h1v1h-1zM1264 237h1v1h-1zM1263 238h1v1h-1zM1262 239h1v1h-1zM1261 240h1v1h-1zM1261 241h1v1h-1zM1260 242h1v1h-1zM1259 243h1v1h-1zM1258 244h1v1h-1zM1258 245h1v1h-1zM794 246h4v1h-4zM1257 246h1v1h-1zM792 247h2v1h-2zM798 247h4v1h-4zM1256 247h1v1h-1zM789 248h3v1h-3zM802 248h11v1h-11zM1255 248h1v1h-1zM784 249h5v1h-5zM813 249h3v1h-3zM1255 249h1v1h-1zM776 250h8v1h-8zM816 250h2v1h-2zM1254 250h1v1h-1zM770 251h6v1h-6zM818 251h2v1h-2zM1253 251h1v1h-1zM768 252h2v1h-2zM820 252h2v1h-2zM1252 252h1v1h-1zM765 253h3v1h-3zM822 253h2v1h-2zM1252 253h1v1h-1zM763 254h2v1h-2zM824 254h1v1h-1zM1251 254h1v1h-1zM761 255h2v1h-2zM825 255h2v1h-2zM1250 255h1v1h-1zM759 256h2v1h-2zM827 256h2v1h-2zM1250 256h1v1h-1zM757 257h2v1h-2zM829 257h3v1h-3zM1249 257h1v1h-1zM755 258h2v1h-2zM832 258h2v1h-2zM1248 258h1v1h-1zM754 259h1v1h-1zM834 259h4v1h-4zM1247 259h1v1h-1zM753 260h1v1h-1zM838 260h4v1h-4zM1247 260h1v1h-1zM752 261h1v1h-1zM842 261h10v1h-10zM1246 261h1v1h-1zM751 262h1v1h-1zM852 262h2v1h-2zM1245 262h1v1h-1zM750 263h1v1h-1zM854 263h2v1h-2zM873 263h5v1h-5zM1244 263h1v1h-1zM749 264h1v1h-1zM856 264h1v1h-1zM867 264h6v1h-6zM878 264h4v1h-4zM1244 264h1v1h-1zM748 265h1v1h-1zM857 265h2v1h-2zM862 265h5v1h-5zM882 265h11v1h-11zM1243 265h1v1h-1zM747 266h1v1h-1zM859 266h3v1h-3zM893 266h3v1h-3zM1242 266h1v1h-1zM745 267h2v1h-2zM896 267h2v1h-2zM1241 267h1v1h-1zM743 268h2v1h-2zM898 268h2v1h-2zM1240 268h1v1h-1zM741 269h2v1h-2zM900 269h2v1h-2zM1239 269h1v1h-1zM739 270h2v1h-2zM902 270h2v1h-2zM1238 270h1v1h-1zM738 271h1v1h-1zM904 271h1v1h-1zM1237 271h1v1h-1zM737 272h1v1h-1zM905 272h2v1h-2zM1236 272h1v1h-1zM736 273h1v1h-1zM907 273h2v1h-2zM1235 273h1v1h-1zM734 274h2v1h-2zM909 274h2v1h-2zM1234 274h1v1h-1zM733 275h1v1h-1zM911 275h2v1h-2zM1233 275h1v1h-1zM732 276h1v1h-1zM913 276h2v1h-2zM970 276h12v1h-12zM1232 276h1v1h-1zM731 277h1v1h-1zM915 277h2v1h-2zM968 277h2v1h-2zM982 277h4v1h-4zM1231 277h1v1h-1zM730 278h1v1h-1zM917 278h2v1h-2zM965 278h3v1h-3zM986 278h4v1h-4zM1230 278h1v1h-1zM729 279h1v1h-1zM919 279h2v1h-2zM952 279h13v1h-13zM990 279h4v1h-4zM1229 279h1v1h-1zM728 280h1v1h-1zM921 280h2v1h-2zM944 280h8v1h-8zM994 280h2v1h-2zM1228 280h1v1h-1zM726 281h2v1h-2zM923 281h5v1h-5zM936 281h8v1h-8zM996 281h2v1h-2zM1227 281h1v1h-1zM725 282h1v1h-1zM928 282h8v1h-8zM998 282h1v1h-1zM1225 282h2v1h-2zM724 283h1v1h-1zM999 283h1v1h-1zM1224 283h1v1h-1zM722 284h2v1h-2zM1000 284h2v1h-2zM1223 284h1v1h-1zM720 285h2v1h-2zM1002 285h1v1h-1zM1222 285h1v1h-1zM717 286h3v1h-3zM1003 286h1v1h-1zM1221 286h1v1h-1zM715 287h2v1h-2zM1004 287h2v1h-2zM1220 287h1v1h-1zM714 288h1v1h-1zM1006 288h2v1h-2zM1219 288h1v1h-1zM712 289h2v1h-2zM1008 289h1v1h-1zM1218 289h1v1h-1zM711 290h1v1h-1zM1009 290h2v1h-2zM1218 290h1v1h-1zM710 291h1v1h-1zM1011 291h1v1h-1zM1217 291h1v1h-1zM708 292h2v1h-2zM1012 292h2v1h-2zM1216 292h1v1h-1zM707 293h1v1h-1zM1014 293h1v1h-1zM1215 293h1v1h-1zM705 294h2v1h-2zM1015 294h1v1h-1zM1215 294h1v1h-1zM704 295h1v1h-1zM1016 295h2v1h-2zM1214 295h1v1h-1zM702 296h2v1h-2zM1018 296h1v1h-1zM1213 296h1v1h-1zM700 297h2v1h-2zM1019 297h2v1h-2zM1212 297h1v1h-1zM696 298h4v1h-4zM1021 298h3v1h-3zM1212 298h1v1h-1zM690 299h6v1h-6zM1024 299h2v1h-2zM1211 299h1v1h-1zM688 300h2v1h-2zM1026 300h2v1h-2zM1210 300h1v1h-1zM685 301h3v1h-3zM1028 301h2v1h-2zM1209 301h1v1h-1zM682 302h3v1h-3zM1030 302h1v1h-1zM1208 302h1v1h-1zM679 303h3v1h-3zM1031 303h1v1h-1zM1207 303h1v1h-1zM676 304h3v1h-3zM1032 304h2v1h-2zM1207 304h1v1h-1zM674 305h2v1h-2zM1034 305h1v1h-1zM1206 305h1v1h-1zM671 306h3v1h-3zM1035 306h1v1h-1zM1205 306h1v1h-1zM668 307h3v1h-3zM1036 307h1v1h-1zM1204 307h1v1h-1zM666 308h2v1h-2zM1037 308h1v1h-1zM1203 308h1v1h-1zM664 309h2v1h-2zM1038 309h2v1h-2zM1202 309h1v1h-1zM662 310h2v1h-2zM1040 310h1v1h-1zM1202 310h1v1h-1zM660 311h2v1h-2zM1041 311h1v1h-1zM1201 311h1v1h-1zM658 312h2v1h-2zM1042 312h1v1h-1zM1200 312h1v1h-1zM657 313h1v1h-1zM1043 313h1v1h-1zM1200 313h1v1h-1zM655 314h2v1h-2zM1044 314h1v1h-1zM1199 314h1v1h-1zM653 315h2v1h-2zM1045 315h1v1h-1zM1198 315h1v1h-1zM651 316h2v1h-2zM1046 316h1v1h-1zM1198 316h1v1h-1zM649 317h2v1h-2zM1047 317h1v1h-1zM1197 317h1v1h-1zM648 318h1v1h-1zM1048 318h1v1h-1zM1197 318h1v1h-1zM646 319h2v1h-2zM1049 319h1v1h-1zM1196 319h1v1h-1zM584 320h8v1h-8zM608 320h8v1h-8zM624 320h8v1h-8zM644 320h2v1h-2zM1050 320h1v1h-1zM1195 320h1v1h-1zM576 321h8v1h-8zM592 321h16v1h-16zM616 321h8v1h-8zM632 321h12v1h-12zM1051 321h1v1h-1zM1195 321h1v1h-1zM571 322h5v1h-5zM1052 322h2v1h-2zM1194 322h1v1h-1zM569 323h2v1h-2zM1054 323h2v1h-2zM1194 323h1v1h-1zM567 324h2v1h-2zM1056 324h1v1h-1zM1193 324h1v1h-1zM565 325h2v1h-2zM1057 325h2v1h-2zM1193 325h1v1h-1zM563 326h2v1h-2zM1059 326h2v1h-2zM1192 326h1v1h-1zM562 327h1v1h-1zM1061 327h3v1h-3zM1192 327h1v1h-1zM561 328h1v1h-1zM1064 328h2v1h-2zM1191 328h1v1h-1zM560 329h1v1h-1zM1066 329h2v1h-2zM1191 329h1v1h-1zM558 330h2v1h-2zM1068 330h1v1h-1zM1190 330h1v1h-1zM557 331h1v1h-1zM1069 331h1v1h-1zM1190 331h1v1h-1zM556 332h1v1h-1zM1070 332h2v1h-2zM1189 332h1v1h-1zM555 333h1v1h-1zM1072 333h1v1h-1zM1189 333h1v1h-1zM554 334h1v1h-1zM1073 334h1v1h-1zM1188 334h1v1h-1zM553 335h1v1h-1zM1074 335h1v1h-1zM1188 335h1v1h-1zM552 336h1v1h-1zM1075 336h2v1h-2zM1187 336h1v1h-1zM551 337h1v1h-1zM1077 337h2v1h-2zM1187 337h1v1h-1zM550 338h1v1h-1zM1079 338h2v1h-2zM1186 338h1v1h-1zM549 339h1v1h-1zM1081 339h2v1h-2zM1185 339h1v1h-1zM548 340h1v1h-1zM1083 340h1v1h-1zM1184 340h1v1h-1zM547 341h1v1h-1zM1084 341h2v1h-2zM1183 341h1v1h-1zM250 342h3v1h-3zM546 342h1v1h-1zM1086 342h2v1h-2zM1182 342h1v1h-1zM246 343h4v1h-4zM253 343h3v1h-3zM544 343h2v1h-2zM1088 343h1v1h-1zM1181 343h1v1h-1zM242 344h4v1h-4zM256 344h2v1h-2zM543 344h1v1h-1zM1089 344h2v1h-2zM1180 344h1v1h-1zM238 345h4v1h-4zM258 345h1v1h-1zM542 345h1v1h-1zM1091 345h2v1h-2zM1179 345h1v1h-1zM234 346h4v1h-4zM259 346h2v1h-2zM540 346h2v1h-2zM1093 346h3v1h-3zM1178 346h1v1h-1zM230 347h4v1h-4zM261 347h1v1h-1zM539 347h1v1h-1zM1096 347h2v1h-2zM1177 347h1v1h-1zM226 348h4v1h-4zM262 348h1v1h-1zM537 348h2v1h-2zM1098 348h3v1h-3zM1176 348h1v1h-1zM224 349h2v1h-2zM263 349h1v1h-1zM535 349h2v1h-2zM1101 349h3v1h-3zM1175 349h1v1h-1zM222 350h2v1h-2zM264 350h2v1h-2zM533 350h2v1h-2zM1104 350h2v1h-2zM1174 350h1v1h-1zM220 351h2v1h-2zM266 351h1v1h-1zM530 351h3v1h-3zM1106 351h3v1h-3zM1173 351h1v1h-1zM218 352h2v1h-2zM267 352h2v1h-2zM526 352h4v1h-4zM1109 352h2v1h-2zM1172 352h1v1h-1zM214 353h4v1h-4zM269 353h2v1h-2zM522 353h4v1h-4zM1111 353h2v1h-2zM1171 353h1v1h-1zM210 354h4v1h-4zM271 354h2v1h-2zM520 354h2v1h-2zM1113 354h2v1h-2zM1169 354h2v1h-2zM206 355h4v1h-4zM273 355h2v1h-2zM518 355h2v1h-2zM1115 355h2v1h-2zM1168 355h1v1h-1zM202 356h4v1h-4zM275 356h2v1h-2zM516 356h2v1h-2zM1117 356h2v1h-2zM1167 356h1v1h-1zM198 357h4v1h-4zM277 357h1v1h-1zM513 357h3v1h-3zM1119 357h2v1h-2zM1166 357h1v1h-1zM194 358h4v1h-4zM278 358h2v1h-2zM511 358h2v1h-2zM1121 358h2v1h-2zM1165 358h1v1h-1zM190 359h4v1h-4zM280 359h1v1h-1zM509 359h2v1h-2zM1123 359h3v1h-3zM1164 359h1v1h-1zM182 360h8v1h-8zM281 360h1v1h-1zM507 360h2v1h-2zM1126 360h4v1h-4zM1162 360h2v1h-2zM170 361h12v1h-12zM282 361h1v1h-1zM506 361h1v1h-1zM1130 361h4v1h-4zM1160 361h2v1h-2zM163 362h7v1h-7zM283 362h1v1h-1zM504 362h2v1h-2zM1134 362h4v1h-4zM1157 362h3v1h-3zM161 363h2v1h-2zM284 363h2v1h-2zM503 363h1v1h-1zM1138 363h2v1h-2zM1155 363h2v1h-2zM160 364h1v1h-1zM286 364h1v1h-1zM501 364h2v1h-2zM1140 364h2v1h-2zM1153 364h2v1h-2zM158 365h2v1h-2zM287 365h1v1h-1zM499 365h2v1h-2zM1142 365h2v1h-2zM1152 365h1v1h-1zM156 366h2v1h-2zM288 366h1v1h-1zM498 366h1v1h-1zM1144 366h1v1h-1zM1150 366h2v1h-2zM155 367h1v1h-1zM289 367h1v1h-1zM496 367h2v1h-2zM1145 367h2v1h-2zM1148 367h2v1h-2zM153 368h2v1h-2zM290 368h1v1h-1zM494 368h2v1h-2zM1147 368h1v1h-1zM152 369h1v1h-1zM291 369h1v1h-1zM492 369h2v1h-2zM150 370h2v1h-2zM292 370h2v1h-2zM490 370h2v1h-2zM148 371h2v1h-2zM294 371h1v1h-1zM488 371h2v1h-2zM146 372h2v1h-2zM295 372h1v1h-1zM485 372h3v1h-3zM143 373h3v1h-3zM296 373h1v1h-1zM482 373h3v1h-3zM141 374h2v1h-2zM297 374h1v1h-1zM478 374h4v1h-4zM138 375h3v1h-3zM298 375h1v1h-1zM475 375h3v1h-3zM135 376h3v1h-3zM299 376h3v1h-3zM320 376h5v1h-5zM473 376h2v1h-2zM132 377h3v1h-3zM302 377h4v1h-4zM312 377h8v1h-8zM325 377h2v1h-2zM472 377h1v1h-1zM130 378h2v1h-2zM306 378h6v1h-6zM327 378h2v1h-2zM470 378h2v1h-2zM127 379h3v1h-3zM329 379h2v1h-2zM468 379h2v1h-2zM124 380h3v1h-3zM331 380h11v1h-11zM467 380h1v1h-1zM122 381h2v1h-2zM342 381h4v1h-4zM466 381h1v1h-1zM119 382h3v1h-3zM346 382h4v1h-4zM465 382h1v1h-1zM117 383h2v1h-2zM350 383h4v1h-4zM465 383h1v1h-1zM114 384h3v1h-3zM354 384h10v1h-10zM464 384h1v1h-1zM112 385h2v1h-2zM364 385h2v1h-2zM463 385h1v1h-1zM110 386h2v1h-2zM366 386h2v1h-2zM462 386h1v1h-1zM108 387h2v1h-2zM368 387h1v1h-1zM461 387h1v1h-1zM106 388h2v1h-2zM369 388h2v1h-2zM461 388h1v1h-1zM104 389h2v1h-2zM371 389h1v1h-1zM460 389h1v1h-1zM102 390h2v1h-2zM372 390h2v1h-2zM459 390h1v1h-1zM100 391h2v1h-2zM374 391h2v1h-2zM458 391h1v1h-1zM99 392h1v1h-1zM376 392h1v1h-1zM457 392h1v1h-1zM98 393h1v1h-1zM377 393h2v1h-2zM456 393h1v1h-1zM97 394h1v1h-1zM379 394h1v1h-1zM455 394h1v1h-1zM96 395h1v1h-1zM380 395h1v1h-1zM454 395h1v1h-1zM95 396h1v1h-1zM381 396h1v1h-1zM453 396h1v1h-1zM94 397h1v1h-1zM382 397h1v1h-1zM452 397h1v1h-1zM93 398h1v1h-1zM383 398h1v1h-1zM450 398h2v1h-2zM92 399h1v1h-1zM384 399h1v1h-1zM449 399h1v1h-1zM90 400h2v1h-2zM385 400h1v1h-1zM448 400h1v1h-1zM88 401h2v1h-2zM386 401h1v1h-1zM447 401h1v1h-1zM85 402h3v1h-3zM387 402h1v1h-1zM446 402h1v1h-1zM83 403h2v1h-2zM388 403h1v1h-1zM445 403h1v1h-1zM82 404h1v1h-1zM389 404h1v1h-1zM444 404h1v1h-1zM81 405h1v1h-1zM390 405h1v1h-1zM443 405h1v1h-1zM80 406h1v1h-1zM391 406h1v1h-1zM441 406h2v1h-2zM78 407h2v1h-2zM392 407h1v1h-1zM440 407h1v1h-1zM77 408h1v1h-1zM393 408h1v1h-1zM438 408h2v1h-2zM76 409h1v1h-1zM394 409h1v1h-1zM436 409h2v1h-2zM75 410h1v1h-1zM395 410h2v1h-2zM435 410h1v1h-1zM73 411h2v1h-2zM397 411h2v1h-2zM433 411h2v1h-2zM72 412h1v1h-1zM399 412h2v1h-2zM432 412h1v1h-1zM70 413h2v1h-2zM401 413h2v1h-2zM430 413h2v1h-2zM68 414h2v1h-2zM403 414h5v1h-5zM428 414h2v1h-2zM66 415h2v1h-2zM408 415h5v1h-5zM426 415h2v1h-2zM64 416h2v1h-2zM413 416h3v1h-3zM424 416h2v1h-2zM62 417h2v1h-2zM416 417h2v1h-2zM421 417h3v1h-3zM60 418h2v1h-2zM418 418h3v1h-3zM57 419h3v1h-3zM55 420h2v1h-2zM53 421h2v1h-2zM50 422h3v1h-3zM48 423h2v1h-2zM45 424h3v1h-3zM43 425h2v1h-2zM41 426h2v1h-2zM40 427h1v1h-1zM38 428h2v1h-2zM37 429h1v1h-1zM36 430h1v1h-1zM35 431h1v1h-1zM33 432h2v1h-2zM32 433h1v1h-1zM31 434h1v1h-1zM29 435h2v1h-2zM28 436h1v1h-1zM27 437h1v1h-1zM26 438h1v1h-1zM26 439h1v1h-1zM25 440h1v1h-1zM24 441h1v1h-1zM24 442h1v1h-1zM23 443h1v1h-1zM22 444h1v1h-1zM22 445h1v1h-1zM21 446h1v1h-1zM20 447h1v1h-1zM20 448h1v1h-1zM19 449h1v1h-1zM18 450h1v1h-1zM18 451h1v1h-1zM17 452h1v1h-1zM16 453h1v1h-1zM16 454h1v1h-1zM15 455h1v1h-1zM14 456h1v1h-1zM13 457h1v1h-1zM13 458h1v1h-1zM12 459h1v1h-1zM11 460h1v1h-1zM11 461h1v1h-1zM10 462h1v1h-1zM9 463h1v1h-1zM9 464h1v1h-1zM8 465h1v1h-1zM7 466h1v1h-1zM6 467h1v1h-1zM6 468h1v1h-1zM5 469h1v1h-1zM4 470h1v1h-1zM4 471h1v1h-1zM3 472h1v1h-1z" fill="#ffa000"/>
<rect x="3" y="115" width="1685" height="1" fill="#778899"/>
<rect x="3" y="51" width="1685" height="2" fill="#ff0000"/>
<rect x="3" y="300" width="1685" height="2" fill="#26c326"/>
<rect x="3" y="450" width="1685" height="2" fill="#4169e1"/>
<rect x="3" y="550" width="1685" height="2" fill="#4169e1"/>
</g>
<g shape-rendering="crispEdges">
<rect x="3" y="608" width="1" height="52" fill="#c0c0c0"/>
<rect x="11" y="605" width="1" height="55" fill="#c0c0c0"/>
<rect x="19" y="602" width="1" height="58" fill="#c0c0c0"/>
<rect x="27" y="600" width="1" height="60" fill="#c0c0c0"/>
<rect x="35" y="599" width="1" height="61" fill="#c0c0c0"/>
<rect x="43" y="599" width="1" height="61" fill="#c0c0c0"/>
<rect x="51" y="601" width="1" height="59" fill="#c0c0c0"/>
<rect x="59" y="603" width="1" height="57" fill="#c0c0c0"/>
<rect x="67" y="605" width="1" height="55" fill="#c0c0c0"/>
<rect x="75" y="607" width="1" height="53" fill="#c0c0c0"/>
<rect x="83" y="607" width="1" height="53" fill="#c0c0c0"/>
<rect x="91" y="606" width="1" height="54" fill="#c0c0c0"/>
<rect x="99" y="600" width="1" height="60" fill="#c0c0c0"/>
<rect x="107" y="601" width="1" height="59" fill="#c0c0c0"/>
<rect x="115" y="602" width="1" height="58" fill="#c0c0c0"/>
<rect x="123" y="603" width="1" height="57" fill="#c0c0c0"/>
<rect x="131" y="604" width="1" height="56" fill="#c0c0c0"/>
<rect x="139" y="607" width="1" height="53" fill="#c0c0c0"/>
<rect x="147" y="614" width="1" height="46" fill="#c0c0c0"/>
<rect x="155" y="618" width="1" height="42" fill="#c0c0c0"/>
<rect x="163" y="616" width="1" height="44" fill="#c0c0c0"/>
<rect x="171" y="621" width="1" height="39" fill="#c0c0c0"/>
<rect x="179" y="625" width="1" height="35" fill="#c0c0c0"/>
<rect x="187" y="627" width="1" height="33" fill="#c0c0c0"/>
<rect x="195" y="628" width="1" height="32" fill="#c0c0c0"/>
<rect x="203" y="627" width="1" height="33" fill="#c0c0c0"/>
<rect x="211" y="628" width="1" height="32" fill="#c0c0c0"/>
<rect x="219" y="626" width="1" height="34" fill="#c0c0c0"/>
<rect x="227" y="625" width="1" height="35" fill="#c0c0c0"/>
<rect x="235" y="625" width="1" height="35" fill="#c0c0c0"/>
<rect x="243" y="626" width="1" height="34" fill="#c0c0c0"/>
<rect x="251" y="627" width="1" height="33" fill="#c0c0c0"/>
<rect x="259" y="641" width="1" height="19" fill="#c0c0c0"/>
<rect x="267" y="658" width="1" height="2" fill="#c0c0c0"/>
<rect x="275" y="659" width="1" height="9" fill="#c0c0c0"/>
<rect x="283" y="659" width="1" height="22" fill="#c0c0c0"/>
<rect x="291" y="659" width="1" height="36" fill="#c0c0c0"/>
<rect x="299" y="659" width="1" height="46" fill="#c0c0c0"/>
<rect x="307" y="659" width="1" height="37" fill="#c0c0c0"/>
<rect x="315" y="659" width="1" height="25" fill="#c0c0c0"/>
<rect x="323" y="659" width="1" height="15" fill="#c0c0c0"/>
<rect x="331" y="659" width="1" height="13" fill="#c0c0c0"/>
<rect x="339" y="659" width="1" height="10" fill="#c0c0c0"/>
<rect x="347" y="659" width="1" height="11" fill="#c0c0c0"/>
<rect x="355" y="659" width="1" height="10" fill="#c0c0c0"/>
<rect x="363" y="659" width="1" height="2" fill="#c0c0c0"/>
<rect x="371" y="659" width="1" height="9" fill="#c0c0c0"/>
<rect x="379" y="659" width="1" height="16" fill="#c0c0c0"/>
<rect x="387" y="659" width="1" height="26" fill="#c0c0c0"/>
<rect x="395" y="659" width="1" height="31" fill="#c0c0c0"/>
<rect x="403" y="659" width="1" height="30" fill="#c0c0c0"/>
<rect x="411" y="659" width="1" height="18" fill="#c0c0c0"/>
<rect x="419" y="659" width="1" height="11" fill="#c0c0c0"/>
<rect x="427" y="659" width="1" height="3" fill="#c0c0c0"/>
<rect x="435" y="656" width="1" height="4" fill="#c0c0c0"/>
<rect x="443" y="648" width="1" height="12" fill="#c0c0c0"/>
<rect x="451" y="639" width="1" height="21" fill="#c0c0c0"/>
<rect x="459" y="635" width="1" height="25" fill="#c0c0c0"/>
<rect x="467" y="626" width="1" height="34" fill="#c0c0c0"/>
<rect x="475" y="619" width="1" height="41" fill="#c0c0c0"/>
<rect x="483" y="615" width="1" height="45" fill="#c0c0c0"/>
<rect x="491" y="612" width="1" height="48" fill="#c0c0c0"/>
<rect x="499" y="611" width="1" height="49" fill="#c0c0c0"/>
<rect x="507" y="609" width="1" height="51" fill="#c0c0c0"/>
<rect x="515" y="612" width="1" height="48" fill="#c0c0c0"/>
<rect x="523" y="614" width="1" height="46" fill="#c0c0c0"/>
<rect x="531" y="617" width="1" height="43" fill="#c0c0c0"/>
<rect x="539" y="624" width="1" height="36" fill="#c0c0c0"/>
<rect x="547" y="630" width="1" height="30" fill="#c0c0c0"/>
<rect x="555" y="631" width="1" height="29" fill="#c0c0c0"/>
<rect x="563" y="634" width="1" height="26" fill="#c0c0c0"/>
<rect x="571" y="636" width="1" height="24" fill="#c0c0c0"/>
<rect x="579" y="638" width="1" height="22" fill="#c0c0c0"/>
<rect x="587" y="644" width="1" height="16" fill="#c0c0c0"/>
<rect x="595" y="650" width="1" height="10" fill="#c0c0c0"/>
<rect x="603" y="654" width="1" height="6" fill="#c0c0c0"/>
<rect x="611" y="653" width="1" height="7" fill="#c0c0c0"/>
<rect x="619" y="652" width="1" height="8" fill="#c0c0c0"/>
<rect x="627" y="650" width="1" height="10" fill="#c0c0c0"/>
<rect x="635" y="648" width="1" height="12" fill="#c0c0c0"/>
<rect x="643" y="642" width="1" height="18" fill="#c0c0c0"/>
<rect x="651" y="626" width="1" height="34" fill="#c0c0c0"/>
<rect x="659" y="614" width="1" height="46" fill="#c0c0c0"/>
<rect x="667" y="608" width="1" height="52" fill="#c0c0c0"/>
<rect x="675" y="607" width="1" height="53" fill="#c0c0c0"/>
<rect x="683" y="606" width="1" height="54" fill="#c0c0c0"/>
<rect x="691" y="606" width="1" height="54" fill="#c0c0c0"/>
<rect x="699" y="613" width="1" height="47" fill="#c0c0c0"/>
<rect x="707" y="615" width="1" height="45" fill="#c0c0c0"/>
<rect x="715" y="612" width="1" height="48" fill="#c0c0c0"/>
<rect x="723" y="613" width="1" height="47" fill="#c0c0c0"/>
<rect x="731" y="610" width="1" height="50" fill="#c0c0c0"/>
<rect x="739" y="605" width="1" height="55" fill="#c0c0c0"/>
<rect x="747" y="607" width="1" height="53" fill="#c0c0c0"/>
<rect x="755" y="606" width="1" height="54" fill="#c0c0c0"/>
<rect x="763" y="616" width="1" height="44" fill="#c0c0c0"/>
<rect x="771" y="627" width="1" height="33" fill="#c0c0c0"/>
<rect x="779" y="636" width="1" height="24" fill="#c0c0c0"/>
<rect x="787" y="644" width="1" height="16" fill="#c0c0c0"/>
<rect x="795" y="649" width="1" height="11" fill="#c0c0c0"/>
<rect x="803" y="659" width="1" height="1" fill="#c0c0c0"/>
<rect x="811" y="659" width="1" height="1" fill="#c0c0c0"/>
<rect x="819" y="659" width="1" height="1" fill="#c0c0c0"/>
<rect x="827" y="659" width="1" height="4" fill="#c0c0c0"/>
<rect x="835" y="659" width="1" height="4" fill="#c0c0c0"/>
<rect x="843" y="659" width="1" height="6" fill="#c0c0c0"/>
<rect x="851" y="659" width="1" height="2" fill="#c0c0c0"/>
<rect x="859" y="659" width="1" height="9" fill="#c0c0c0"/>
<rect x="867" y="659" width="1" height="1" fill="#c0c0c0"/>
<rect x="875" y="655" width="1" height="5" fill="#c0c0c0"/>
<rect x="883" y="653" width="1" height="7" fill="#c0c0c0"/>
<rect x="891" y="651" width="1" height="9" fill="#c0c0c0"/>
<rect x="899" y="651" width="1" height="9" fill="#c0c0c0"/>
<rect x="907" y="655" width="1" height="5" fill="#c0c0c0"/>
<rect x="915" y="659" width="1" height="2" fill="#c0c0c0"/>
<rect x="923" y="659" width="1" height="4" fill="#c0c0c0"/>
<rect x="931" y="659" width="1" height="7" fill="#c0c0c0"/>
<rect x="939" y="659" width="1" height="6" fill="#c0c0c0"/>
<rect x="947" y="659" width="1" height="2" fill="#c0c0c0"/>
<rect x="955" y="659" width="1" height="1" fill="#c0c0c0"/>
<rect x="963" y="659" width="1" height="1" fill="#c0c0c0"/>
<rect x="971" y="659" width="1" height="1" fill="#c0c0c0"/>
<rect x="979" y="659" width="1" height="1" fill="#c0c0c0"/>
<rect x="987" y="659" width="1" height="8" fill="#c0c0c0"/>
<rect x="995" y="659" width="1" height="16" fill="#c0c0c0"/>
<rect x="1003" y="659" width="1" height="31" fill="#c0c0c0"/>
<rect x="1011" y="659" width="1" height="40" fill="#c0c0c0"/>
<rect x="1019" y="659" width="1" height="43" fill="#c0c0c0"/>
<rect x="1027" y="659" width="1" height="50" fill="#c0c0c0"/>
<rect x="1035" y="659" width="1" height="50" fill="#c0c0c0"/>
<rect x="1043" y="659" width="1" height="51" fill="#c0c0c0"/>
<rect x="1051" y="659" width="1" height="56" fill="#c0c0c0"/>
<rect x="1059" y="659" width="1" height="53" fill="#c0c0c0"/>
<rect x="1067" y="659" width="1" height="48" fill="#c0c0c0"/>
<rect x="1075" y="659" width="1" height="50" fill="#c0c0c0"/>
<rect x="1083" y="659" width="1" height="51" fill="#c0c0c0"/>
<rect x="1091" y="659" width="1" height="56" fill="#c0c0c0"/>
<rect x="1099" y="659" width="1" height="54" fill="#c0c0c0"/>
<rect x="1107" y="659" width="1" height="39" fill="#c0c0c0"/>
<rect x="1115" y="659" width="1" height="30" fill="#c0c0c0"/>
<rect x="1123" y="659" width="1" height="23" fill="#c0c0c0"/>
<rect x="1131" y="659" width="1" height="18" fill="#c0c0c0"/>
<rect x="1139" y="659" width="1" height="14" fill="#c0c0c0"/>
<rect x="1147" y="659" width="1" height="16" fill="#c0c0c0"/>
<rect x="1155" y="659" width="1" height="1" fill="#c0c0c0"/>
<rect x="1163" y="646" width="1" height="14" fill="#c0c0c0"/>
<rect x="1171" y="637" width="1" height="23" fill="#c0c0c0"/>
<rect x="1179" y="628" width="1" height="32" fill="#c0c0c0"/>
<rect x="1187" y="617" width="1" height="43" fill="#c0c0c0"/>
<rect x="1195" y="588" width="1" height="72" fill="#c0c0c0"/>
<rect x="1203" y="574" width="1" height="86" fill="#c0c0c0"/>
<rect x="1211" y="575" width="1" height="85" fill="#c0c0c0"/>
<rect x="1219" y="575" width="1" height="85" fill="#c0c0c0"/>
<rect x="1227" y="577" width="1" height="83" fill="#c0c0c0"/>
<rect x="1235" y="582" width="1" height="78" fill="#c0c0c0"/>
<rect x="1243" y="588" width="1" height="72" fill="#c0c0c0"/>
<rect x="1251" y="586" width="1" height="74" fill="#c0c0c0"/>
<rect x="1259" y="591" width="1" height="69" fill="#c0c0c0"/>
<rect x="1267" y="595" width="1" height="65" fill="#c0c0c0"/>
<rect x="1275" y="603" width="1" height="57" fill="#c0c0c0"/>
<rect x="1283" y="607" width="1" height="53" fill="#c0c0c0"/>
<rect x="1291" y="619" width="1" height="41" fill="#c0c0c0"/>
<rect x="1299" y="630" width="1" height="30" fill="#c0c0c0"/>
<rect x="1307" y="636" width="1" height="24" fill="#c0c0c0"/>
<rect x="1315" y="641" width="1" height="19" fill="#c0c0c0"/>
<rect x="1323" y="644" width="1" height="16" fill="#c0c0c0"/>
<rect x="1331" y="644" width="1" height="16" fill="#c0c0c0"/>
<rect x="1339" y="644" width="1" height="16" fill="#c0c0c0"/>
<rect x="1347" y="644" width="1" height="16" fill="#c0c0c0"/>
<rect x="1355" y="640" width="1" height="20" fill="#c0c0c0"/>
<rect x="1363" y="639" width="1" height="21" fill="#c0c0c0"/>
<rect x="1371" y="637" width="1" height="23" fill="#c0c0c0"/>
<rect x="1379" y="633" width="1" height="27" fill="#c0c0c0"/>
<rect x="1387" y="629" width="1" height="31" fill="#c0c0c0"/>
<rect x="1395" y="622" width="1" height="38" fill="#c0c0c0"/>
<rect x="1403" y="622" width="1" height="38" fill="#c0c0c0"/>
<rect x="1411" y="634" width="1" height="26" fill="#c0c0c0"/>
<rect x="1419" y="642" width="1" height="18" fill="#c0c0c0"/>
<rect x="1427" y="646" width="1" height="14" fill="#c0c0c0"/>
<rect x="1435" y="645" width="1" height="15" fill="#c0c0c0"/>
<rect x="1443" y="642" width="1" height="18" fill="#c0c0c0"/>
<rect x="1451" y="639" width="1" height="21" fill="#c0c0c0"/>
<rect x="1459" y="633" width="1" height="27" fill="#c0c0c0"/>
<rect x="1467" y="629" width="1" height="31" fill="#c0c0c0"/>
<rect x="1475" y="625" width="1" height="35" fill="#c0c0c0"/>
<rect x="1483" y="623" width="1" height="37" fill="#c0c0c0"/>
<rect x="1491" y="621" width="1" height="39" fill="#c0c0c0"/>
<rect x="1499" y="624" width="1" height="36" fill="#c0c0c0"/>
<rect x="1507" y="627" width="1" height="33" fill="#c0c0c0"/>
<rect x="1515" y="628" width="1" height="32" fill="#c0c0c0"/>
<rect x="1523" y="631" width="1" height="29" fill="#c0c0c0"/>
<rect x="1531" y="638" width="1" height="22" fill="#c0c0c0"/>
<rect x="1539" y="641" width="1" height="19" fill="#c0c0c0"/>
<rect x="1547" y="645" width="1" height="15" fill="#c0c0c0"/>
<rect x="1555" y="647" width="1" height="13" fill="#c0c0c0"/>
<rect x="1563" y="649" width="1" height="11" fill="#c0c0c0"/>
<rect x="1571" y="649" width="1" height="11" fill="#c0c0c0"/>
<rect x="1579" y="648" width="1" height="12" fill="#c0c0c0"/>
<rect x="1587" y="650" width="1" height="10" fill="#c0c0c0"/>
<rect x="1595" y="655" width="1" height="5" fill="#c0c0c0"/>
<rect x="1603" y="654" width="1" height="6" fill="#c0c0c0"/>
<rect x="1611" y="646" width="1" height="14" fill="#c0c0c0"/>
<rect x="1619" y="641" width="1" height="19" fill="#c0c0c0"/>
<rect x="1627" y="638" width="1" height="22" fill="#c0c0c0"/>
<rect x="1635" y="633" width="1" height="27" fill="#c0c0c0"/>
<rect x="1643" y="633" width="1" height="27" fill="#c0c0c0"/>
<rect x="1651" y="633" width="1" height="27" fill="#c0c0c0"/>
<rect x="1659" y="631" width="1" height="29" fill="#c0c0c0"/>
<rect x="1667" y="628" width="1" height="32" fill="#c0c0c0"/>
<path d="M1261 581h3v1h-3zM1267 581h2v1h-2zM1256 582h2v1h-2zM1269 582h1v1h-1zM1255 583h1v1h-1zM1251 584h1v1h-1zM1273 584h2v1h-2zM1249 585h2v1h-2zM1275 585h1v1h-1zM1245 587h1v1h-1zM1279 587h2v1h-2zM1243 588h2v1h-2zM1281 588h1v1h-1zM1285 590h2v1h-2zM1287 591h1v1h-1zM1238 592h2v1h-2zM1237 593h1v1h-1zM1291 593h1v1h-1zM1292 594h2v1h-2zM1233 597h1v1h-1zM1297 597h1v1h-1zM1232 598h1v1h-1zM1298 598h1v1h-1zM1231 599h1v1h-1zM1299 599h1v1h-1zM69 602h3v1h-3zM75 602h3v1h-3zM81 602h3v1h-3zM87 602h3v1h-3zM93 602h3v1h-3zM99 602h3v1h-3zM105 602h3v1h-3zM111 602h1v1h-1zM1227 602h1v1h-1zM1303 602h1v1h-1zM57 603h3v1h-3zM63 603h3v1h-3zM112 603h2v1h-2zM117 603h3v1h-3zM123 603h3v1h-3zM129 603h3v1h-3zM135 603h3v1h-3zM141 603h3v1h-3zM147 603h2v1h-2zM1226 603h1v1h-1zM1304 603h2v1h-2zM51 604h3v1h-3zM149 604h1v1h-1zM153 604h3v1h-3zM1225 604h1v1h-1zM40 605h2v1h-2zM45 605h3v1h-3zM159 605h3v1h-3zM33 606h3v1h-3zM39 606h1v1h-1zM165 606h1v1h-1zM1309 606h1v1h-1zM27 607h3v1h-3zM166 607h2v1h-2zM1310 607h1v1h-1zM22 608h2v1h-2zM171 608h2v1h-2zM1221 608h1v1h-1zM1311 608h1v1h-1zM21 609h1v1h-1zM173 609h1v1h-1zM721 609h3v1h-3zM727 609h3v1h-3zM733 609h3v1h-3zM739 609h3v1h-3zM745 609h3v1h-3zM751 609h3v1h-3zM757 609h3v1h-3zM1220 609h1v1h-1zM15 610h3v1h-3zM177 610h1v1h-1zM717 610h1v1h-1zM763 610h3v1h-3zM1219 610h1v1h-1zM1315 610h1v1h-1zM10 611h2v1h-2zM178 611h2v1h-2zM715 611h2v1h-2zM769 611h3v1h-3zM1316 611h1v1h-1zM9 612h1v1h-1zM183 612h1v1h-1zM711 612h1v1h-1zM775 612h1v1h-1zM1317 612h1v1h-1zM5 613h1v1h-1zM184 613h2v1h-2zM709 613h2v1h-2zM776 613h2v1h-2zM3 614h2v1h-2zM529 614h3v1h-3zM535 614h3v1h-3zM541 614h3v1h-3zM781 614h2v1h-2zM1216 614h1v1h-1zM189 615h3v1h-3zM523 615h3v1h-3zM547 615h2v1h-2zM705 615h1v1h-1zM783 615h1v1h-1zM1215 615h1v1h-1zM1321 615h1v1h-1zM195 616h1v1h-1zM549 616h1v1h-1zM703 616h2v1h-2zM787 616h1v1h-1zM1214 616h1v1h-1zM1322 616h1v1h-1zM196 617h2v1h-2zM519 617h1v1h-1zM553 617h3v1h-3zM788 617h2v1h-2zM1323 617h1v1h-1zM201 618h1v1h-1zM517 618h2v1h-2zM559 618h3v1h-3zM699 618h1v1h-1zM202 619h2v1h-2zM565 619h1v1h-1zM697 619h2v1h-2zM207 620h2v1h-2zM513 620h1v1h-1zM566 620h2v1h-2zM793 620h2v1h-2zM1211 620h1v1h-1zM1327 620h1v1h-1zM209 621h1v1h-1zM511 621h2v1h-2zM693 621h1v1h-1zM795 621h1v1h-1zM1210 621h1v1h-1zM1328 621h1v1h-1zM213 622h3v1h-3zM571 622h3v1h-3zM691 622h2v1h-2zM1210 622h1v1h-1zM1329 622h1v1h-1zM219 623h3v1h-3zM507 623h1v1h-1zM225 624h3v1h-3zM231 624h3v1h-3zM237 624h3v1h-3zM505 624h2v1h-2zM577 624h1v1h-1zM799 624h2v1h-2zM1333 624h1v1h-1zM243 625h3v1h-3zM249 625h3v1h-3zM578 625h2v1h-2zM686 625h2v1h-2zM801 625h1v1h-1zM1334 625h2v1h-2zM255 626h3v1h-3zM685 626h1v1h-1zM1207 626h1v1h-1zM1519 626h3v1h-3zM1525 626h3v1h-3zM261 627h1v1h-1zM500 627h2v1h-2zM583 627h2v1h-2zM1206 627h1v1h-1zM1513 627h3v1h-3zM1531 627h3v1h-3zM262 628h2v1h-2zM499 628h1v1h-1zM585 628h1v1h-1zM681 628h1v1h-1zM805 628h1v1h-1zM1206 628h1v1h-1zM1339 628h2v1h-2zM1507 628h3v1h-3zM1537 628h3v1h-3zM679 629h2v1h-2zM806 629h2v1h-2zM1341 629h1v1h-1zM1502 629h2v1h-2zM1543 629h3v1h-3zM267 630h1v1h-1zM589 630h2v1h-2zM1501 630h1v1h-1zM268 631h2v1h-2zM495 631h1v1h-1zM591 631h1v1h-1zM1345 631h1v1h-1zM1495 631h3v1h-3zM1549 631h2v1h-2zM494 632h1v1h-1zM675 632h1v1h-1zM811 632h1v1h-1zM1203 632h1v1h-1zM1346 632h2v1h-2zM1411 632h3v1h-3zM1417 632h3v1h-3zM1423 632h3v1h-3zM1491 632h1v1h-1zM1551 632h1v1h-1zM493 633h1v1h-1zM595 633h2v1h-2zM673 633h2v1h-2zM812 633h1v1h-1zM1202 633h1v1h-1zM1406 633h2v1h-2zM1429 633h3v1h-3zM1435 633h3v1h-3zM1489 633h2v1h-2zM1555 633h2v1h-2zM273 634h2v1h-2zM597 634h1v1h-1zM813 634h1v1h-1zM1202 634h1v1h-1zM1351 634h1v1h-1zM1400 634h2v1h-2zM1405 634h1v1h-1zM1441 634h3v1h-3zM1447 634h2v1h-2zM1484 634h2v1h-2zM1557 634h1v1h-1zM275 635h1v1h-1zM489 635h1v1h-1zM1352 635h2v1h-2zM1394 635h2v1h-2zM1399 635h1v1h-1zM1449 635h1v1h-1zM1453 635h3v1h-3zM1459 635h2v1h-2zM1483 635h1v1h-1zM1561 635h1v1h-1zM488 636h1v1h-1zM601 636h2v1h-2zM668 636h2v1h-2zM1393 636h1v1h-1zM1461 636h1v1h-1zM1465 636h3v1h-3zM1471 636h3v1h-3zM1477 636h3v1h-3zM1562 636h2v1h-2zM487 637h1v1h-1zM603 637h1v1h-1zM667 637h1v1h-1zM817 637h1v1h-1zM1357 637h2v1h-2zM1389 637h1v1h-1zM1567 637h1v1h-1zM1664 637h2v1h-2zM279 638h1v1h-1zM818 638h1v1h-1zM1199 638h1v1h-1zM1359 638h1v1h-1zM1363 638h1v1h-1zM1387 638h2v1h-2zM1568 638h2v1h-2zM1658 638h2v1h-2zM1663 638h1v1h-1zM280 639h1v1h-1zM483 639h1v1h-1zM607 639h3v1h-3zM663 639h1v1h-1zM819 639h1v1h-1zM1198 639h1v1h-1zM1364 639h2v1h-2zM1369 639h3v1h-3zM1381 639h3v1h-3zM1657 639h1v1h-1zM281 640h1v1h-1zM482 640h1v1h-1zM613 640h3v1h-3zM662 640h1v1h-1zM1198 640h1v1h-1zM1375 640h3v1h-3zM1573 640h2v1h-2zM1653 640h1v1h-1zM481 641h1v1h-1zM619 641h2v1h-2zM661 641h1v1h-1zM1575 641h1v1h-1zM1651 641h2v1h-2zM621 642h1v1h-1zM823 642h2v1h-2zM1579 642h3v1h-3zM1646 642h2v1h-2zM285 643h1v1h-1zM625 643h3v1h-3zM656 643h2v1h-2zM825 643h1v1h-1zM1585 643h3v1h-3zM1645 643h1v1h-1zM286 644h1v1h-1zM477 644h1v1h-1zM655 644h1v1h-1zM1195 644h1v1h-1zM1591 644h1v1h-1zM1639 644h3v1h-3zM287 645h1v1h-1zM476 645h1v1h-1zM631 645h3v1h-3zM649 645h3v1h-3zM829 645h1v1h-1zM1194 645h1v1h-1zM1592 645h2v1h-2zM1633 645h3v1h-3zM475 646h1v1h-1zM637 646h2v1h-2zM644 646h2v1h-2zM830 646h1v1h-1zM1193 646h1v1h-1zM1597 646h1v1h-1zM1627 646h3v1h-3zM639 647h1v1h-1zM643 647h1v1h-1zM831 647h1v1h-1zM1598 647h2v1h-2zM1621 647h3v1h-3zM1603 648h3v1h-3zM1609 648h3v1h-3zM1615 648h3v1h-3zM291 649h2v1h-2zM835 649h2v1h-2zM293 650h1v1h-1zM471 650h1v1h-1zM837 650h1v1h-1zM1189 650h1v1h-1zM471 651h1v1h-1zM1188 651h1v1h-1zM470 652h1v1h-1zM841 652h2v1h-2zM1187 652h1v1h-1zM843 653h1v1h-1zM297 654h1v1h-1zM298 655h1v1h-1zM847 655h2v1h-2zM299 656h1v1h-1zM466 656h1v1h-1zM849 656h1v1h-1zM913 656h3v1h-3zM919 656h3v1h-3zM925 656h3v1h-3zM1183 656h1v1h-1zM465 657h1v1h-1zM907 657h3v1h-3zM931 657h3v1h-3zM937 657h3v1h-3zM943 657h1v1h-1zM1183 657h1v1h-1zM464 658h1v1h-1zM853 658h3v1h-3zM896 658h2v1h-2zM901 658h3v1h-3zM944 658h2v1h-2zM949 658h3v1h-3zM1182 658h1v1h-1zM859 659h3v1h-3zM889 659h3v1h-3zM895 659h1v1h-1zM955 659h3v1h-3zM303 660h1v1h-1zM865 660h1v1h-1zM877 660h3v1h-3zM883 660h3v1h-3zM961 660h3v1h-3zM967 660h1v1h-1zM303 661h1v1h-1zM460 661h1v1h-1zM866 661h2v1h-2zM871 661h3v1h-3zM968 661h2v1h-2zM973 661h3v1h-3zM979 661h1v1h-1zM304 662h1v1h-1zM459 662h1v1h-1zM980 662h2v1h-2zM985 662h3v1h-3zM1178 662h1v1h-1zM458 663h1v1h-1zM991 663h3v1h-3zM1177 663h1v1h-1zM997 664h3v1h-3zM1176 664h1v1h-1zM308 666h1v1h-1zM453 666h2v1h-2zM1003 666h2v1h-2zM309 667h1v1h-1zM452 667h1v1h-1zM1005 667h1v1h-1zM310 668h1v1h-1zM1172 668h1v1h-1zM448 669h1v1h-1zM1009 669h2v1h-2zM1171 669h1v1h-1zM446 670h2v1h-2zM1011 670h1v1h-1zM1170 670h1v1h-1zM381 671h2v1h-2zM386 671h3v1h-3zM314 672h1v1h-1zM374 672h3v1h-3zM380 672h1v1h-1zM392 672h3v1h-3zM440 672h3v1h-3zM1015 672h1v1h-1zM315 673h2v1h-2zM370 673h1v1h-1zM398 673h3v1h-3zM436 673h1v1h-1zM1016 673h1v1h-1zM368 674h2v1h-2zM404 674h3v1h-3zM434 674h2v1h-2zM1017 674h1v1h-1zM1167 674h1v1h-1zM320 675h1v1h-1zM410 675h3v1h-3zM428 675h3v1h-3zM1166 675h1v1h-1zM321 676h2v1h-2zM363 676h2v1h-2zM416 676h3v1h-3zM422 676h3v1h-3zM1021 676h1v1h-1zM1165 676h1v1h-1zM362 677h1v1h-1zM1022 677h2v1h-2zM326 678h3v1h-3zM332 679h1v1h-1zM357 679h2v1h-2zM333 680h2v1h-2zM356 680h1v1h-1zM1027 680h1v1h-1zM1161 680h1v1h-1zM338 681h3v1h-3zM350 681h3v1h-3zM1028 681h2v1h-2zM1160 681h1v1h-1zM344 682h3v1h-3zM1159 682h1v1h-1zM1033 684h2v1h-2zM1035 685h1v1h-1zM1155 686h1v1h-1zM1153 687h2v1h-2zM1039 688h1v1h-1zM1040 689h2v1h-2zM1149 690h1v1h-1zM1147 691h2v1h-2zM1045 693h1v1h-1zM1143 693h1v1h-1zM1046 694h2v1h-2zM1141 694h2v1h-2zM1136 696h2v1h-2zM1135 697h1v1h-1zM1051 698h2v1h-2zM1131 698h1v1h-1zM1053 699h1v1h-1zM1129 699h2v1h-2zM1057 701h2v1h-2zM1125 701h1v1h-1zM1059 702h1v1h-1zM1123 702h2v1h-2zM1063 704h2v1h-2zM1065 705h1v1h-1zM1118 705h2v1h-2zM1069 706h1v1h-1zM1117 706h1v1h-1zM1070 707h2v1h-2zM1075 708h3v1h-3zM1111 708h3v1h-3zM1081 709h3v1h-3zM1087 709h1v1h-1zM1106 709h2v1h-2zM1088 710h2v1h-2zM1093 710h3v1h-3zM1105 710h1v1h-1zM1099 711h3v1h-3z" fill="#ff0000"/>
</g>
<g shape-rendering="crispEdges">
<line x1="4" y1="769.5" x2="1688" y2="769.5" stroke="#c0c0c0" stroke-width="1" stroke-dasharray="3 3"/>
<line x1="4" y1="827.5" x2="1688" y2="827.5" stroke="#c0c0c0" stroke-width="1" stroke-dasharray="3 3"/>
</g>
<g shape-rendering="crispEdges">
<path d="M1195 762h1v1h-1zM1194 763h1v1h-1zM1196 763h1v1h-1zM1194 764h1v1h-1zM1197 764h1v1h-1zM1193 765h1v1h-1zM1197 765h1v1h-1zM651 766h9v1h-9zM1193 766h1v1h-1zM1198 766h1v1h-1zM650 767h1v1h-1zM660 767h1v1h-1zM1192 767h1v1h-1zM1199 767h1v1h-1zM650 768h1v1h-1zM661 768h1v1h-1zM1192 768h1v1h-1zM1200 768h1v1h-1zM649 769h1v1h-1zM662 769h1v1h-1zM1191 769h1v1h-1zM1201 769h1v1h-1zM99 770h1v1h-1zM649 770h1v1h-1zM663 770h1v1h-1zM1191 770h1v1h-1zM1201 770h1v1h-1zM98 771h1v1h-1zM100 771h1v1h-1zM648 771h1v1h-1zM664 771h1v1h-1zM1190 771h1v1h-1zM1202 771h1v1h-1zM97 772h1v1h-1zM100 772h1v1h-1zM648 772h1v1h-1zM665 772h1v1h-1zM1190 772h1v1h-1zM1203 772h1v1h-1zM96 773h1v1h-1zM101 773h1v1h-1zM647 773h1v1h-1zM666 773h1v1h-1zM1189 773h1v1h-1zM1204 773h1v1h-1zM95 774h1v1h-1zM102 774h1v1h-1zM647 774h1v1h-1zM667 774h1v1h-1zM1189 774h1v1h-1zM1204 774h1v1h-1zM94 775h1v1h-1zM102 775h1v1h-1zM646 775h1v1h-1zM668 775h1v1h-1zM1188 775h1v1h-1zM1205 775h1v1h-1zM93 776h1v1h-1zM103 776h1v1h-1zM646 776h1v1h-1zM669 776h1v1h-1zM1188 776h1v1h-1zM1205 776h1v1h-1zM92 777h1v1h-1zM104 777h1v1h-1zM131 777h1v1h-1zM645 777h1v1h-1zM670 777h1v1h-1zM739 777h1v1h-1zM1187 777h1v1h-1zM1206 777h1v1h-1zM1395 777h1v1h-1zM90 778h2v1h-2zM104 778h1v1h-1zM129 778h2v1h-2zM132 778h1v1h-1zM645 778h1v1h-1zM671 778h1v1h-1zM737 778h2v1h-2zM740 778h1v1h-1zM1185 778h2v1h-2zM1206 778h1v1h-1zM1394 778h1v1h-1zM1396 778h1v1h-1zM88 779h2v1h-2zM105 779h1v1h-1zM128 779h1v1h-1zM133 779h1v1h-1zM644 779h1v1h-1zM672 779h1v1h-1zM735 779h2v1h-2zM741 779h1v1h-1zM1184 779h1v1h-1zM1207 779h1v1h-1zM1392 779h2v1h-2zM1397 779h1v1h-1zM85 780h3v1h-3zM106 780h1v1h-1zM126 780h2v1h-2zM133 780h1v1h-1zM644 780h1v1h-1zM673 780h1v1h-1zM682 780h3v1h-3zM733 780h2v1h-2zM742 780h1v1h-1zM1182 780h2v1h-2zM1207 780h1v1h-1zM1391 780h1v1h-1zM1397 780h1v1h-1zM3 781h2v1h-2zM18 781h6v1h-6zM40 781h4v1h-4zM82 781h3v1h-3zM106 781h1v1h-1zM124 781h2v1h-2zM134 781h1v1h-1zM472 781h5v1h-5zM643 781h1v1h-1zM674 781h1v1h-1zM678 781h4v1h-4zM685 781h3v1h-3zM731 781h2v1h-2zM743 781h1v1h-1zM1180 781h2v1h-2zM1208 781h1v1h-1zM1390 781h1v1h-1zM1398 781h1v1h-1zM5 782h3v1h-3zM16 782h2v1h-2zM24 782h16v1h-16zM44 782h2v1h-2zM80 782h2v1h-2zM107 782h17v1h-17zM135 782h1v1h-1zM163 782h1v1h-1zM226 782h4v1h-4zM467 782h5v1h-5zM477 782h3v1h-3zM506 782h2v1h-2zM642 782h1v1h-1zM675 782h3v1h-3zM688 782h2v1h-2zM715 782h2v1h-2zM729 782h2v1h-2zM743 782h1v1h-1zM755 782h1v1h-1zM1176 782h4v1h-4zM1208 782h1v1h-1zM1388 782h2v1h-2zM1399 782h1v1h-1zM1490 782h2v1h-2zM1611 782h3v1h-3zM1635 782h1v1h-1zM8 783h2v1h-2zM13 783h3v1h-3zM46 783h2v1h-2zM77 783h3v1h-3zM136 783h1v1h-1zM162 783h1v1h-1zM164 783h1v1h-1zM222 783h4v1h-4zM230 783h4v1h-4zM466 783h1v1h-1zM480 783h2v1h-2zM504 783h2v1h-2zM508 783h1v1h-1zM640 783h2v1h-2zM690 783h2v1h-2zM713 783h2v1h-2zM717 783h2v1h-2zM728 783h1v1h-1zM744 783h1v1h-1zM753 783h3v1h-3zM1155 783h21v1h-21zM1209 783h1v1h-1zM1386 783h2v1h-2zM1400 783h1v1h-1zM1459 783h5v1h-5zM1472 783h8v1h-8zM1486 783h4v1h-4zM1492 783h1v1h-1zM1610 783h1v1h-1zM1614 783h4v1h-4zM1633 783h2v1h-2zM1636 783h1v1h-1zM10 784h3v1h-3zM48 784h1v1h-1zM66 784h11v1h-11zM137 784h1v1h-1zM161 784h1v1h-1zM164 784h1v1h-1zM219 784h3v1h-3zM234 784h2v1h-2zM450 784h2v1h-2zM465 784h1v1h-1zM482 784h14v1h-14zM501 784h3v1h-3zM509 784h1v1h-1zM639 784h1v1h-1zM692 784h1v1h-1zM712 784h1v1h-1zM719 784h2v1h-2zM726 784h2v1h-2zM745 784h1v1h-1zM751 784h2v1h-2zM756 784h1v1h-1zM1155 784h1v1h-1zM1209 784h1v1h-1zM1251 784h1v1h-1zM1382 784h4v1h-4zM1401 784h1v1h-1zM1458 784h1v1h-1zM1464 784h8v1h-8zM1480 784h6v1h-6zM1492 784h1v1h-1zM1610 784h1v1h-1zM1618 784h3v1h-3zM1632 784h1v1h-1zM1637 784h1v1h-1zM1664 784h4v1h-4zM49 785h2v1h-2zM62 785h4v1h-4zM137 785h1v1h-1zM160 785h1v1h-1zM165 785h1v1h-1zM218 785h1v1h-1zM236 785h1v1h-1zM448 785h2v1h-2zM452 785h2v1h-2zM464 785h1v1h-1zM496 785h5v1h-5zM510 785h1v1h-1zM638 785h1v1h-1zM692 785h1v1h-1zM710 785h2v1h-2zM721 785h2v1h-2zM724 785h2v1h-2zM746 785h1v1h-1zM749 785h2v1h-2zM756 785h1v1h-1zM1154 785h1v1h-1zM1210 785h1v1h-1zM1250 785h1v1h-1zM1252 785h1v1h-1zM1379 785h3v1h-3zM1401 785h1v1h-1zM1456 785h2v1h-2zM1493 785h1v1h-1zM1609 785h1v1h-1zM1621 785h3v1h-3zM1630 785h2v1h-2zM1638 785h1v1h-1zM1659 785h5v1h-5zM51 786h11v1h-11zM138 786h1v1h-1zM159 786h1v1h-1zM165 786h1v1h-1zM203 786h1v1h-1zM217 786h1v1h-1zM237 786h1v1h-1zM445 786h3v1h-3zM454 786h2v1h-2zM462 786h2v1h-2zM511 786h1v1h-1zM636 786h2v1h-2zM693 786h1v1h-1zM708 786h2v1h-2zM723 786h1v1h-1zM747 786h2v1h-2zM757 786h1v1h-1zM1154 786h1v1h-1zM1210 786h1v1h-1zM1216 786h8v1h-8zM1248 786h2v1h-2zM1253 786h1v1h-1zM1377 786h2v1h-2zM1402 786h1v1h-1zM1455 786h1v1h-1zM1494 786h1v1h-1zM1608 786h1v1h-1zM1624 786h2v1h-2zM1628 786h2v1h-2zM1639 786h1v1h-1zM1657 786h2v1h-2zM139 787h1v1h-1zM159 787h1v1h-1zM166 787h1v1h-1zM201 787h2v1h-2zM204 787h2v1h-2zM216 787h1v1h-1zM238 787h1v1h-1zM251 787h1v1h-1zM443 787h2v1h-2zM456 787h1v1h-1zM461 787h1v1h-1zM512 787h1v1h-1zM635 787h1v1h-1zM694 787h1v1h-1zM707 787h1v1h-1zM757 787h1v1h-1zM1153 787h1v1h-1zM1211 787h5v1h-5zM1224 787h6v1h-6zM1247 787h1v1h-1zM1254 787h2v1h-2zM1355 787h2v1h-2zM1376 787h1v1h-1zM1403 787h1v1h-1zM1454 787h1v1h-1zM1495 787h1v1h-1zM1608 787h1v1h-1zM1626 787h2v1h-2zM1640 787h1v1h-1zM1655 787h2v1h-2zM140 788h1v1h-1zM158 788h1v1h-1zM167 788h1v1h-1zM199 788h2v1h-2zM206 788h2v1h-2zM214 788h2v1h-2zM239 788h1v1h-1zM249 788h3v1h-3zM441 788h2v1h-2zM457 788h2v1h-2zM460 788h1v1h-1zM513 788h1v1h-1zM633 788h2v1h-2zM694 788h1v1h-1zM706 788h1v1h-1zM758 788h1v1h-1zM1153 788h1v1h-1zM1230 788h4v1h-4zM1246 788h1v1h-1zM1256 788h1v1h-1zM1354 788h1v1h-1zM1357 788h3v1h-3zM1374 788h2v1h-2zM1403 788h1v1h-1zM1452 788h2v1h-2zM1495 788h1v1h-1zM1607 788h1v1h-1zM1641 788h1v1h-1zM1653 788h2v1h-2zM141 789h1v1h-1zM157 789h1v1h-1zM167 789h1v1h-1zM197 789h2v1h-2zM208 789h1v1h-1zM213 789h1v1h-1zM240 789h1v1h-1zM248 789h1v1h-1zM252 789h1v1h-1zM322 789h2v1h-2zM411 789h1v1h-1zM439 789h2v1h-2zM459 789h1v1h-1zM514 789h1v1h-1zM520 789h8v1h-8zM631 789h2v1h-2zM695 789h1v1h-1zM705 789h1v1h-1zM758 789h1v1h-1zM1107 789h1v1h-1zM1153 789h1v1h-1zM1234 789h6v1h-6zM1244 789h2v1h-2zM1257 789h1v1h-1zM1353 789h1v1h-1zM1360 789h2v1h-2zM1372 789h2v1h-2zM1404 789h1v1h-1zM1443 789h9v1h-9zM1496 789h1v1h-1zM1515 789h1v1h-1zM1606 789h1v1h-1zM1642 789h1v1h-1zM1648 789h5v1h-5zM142 790h1v1h-1zM156 790h1v1h-1zM168 790h1v1h-1zM192 790h5v1h-5zM209 790h2v1h-2zM212 790h1v1h-1zM241 790h1v1h-1zM246 790h2v1h-2zM252 790h1v1h-1zM318 790h4v1h-4zM324 790h1v1h-1zM410 790h1v1h-1zM412 790h2v1h-2zM427 790h5v1h-5zM437 790h2v1h-2zM515 790h5v1h-5zM528 790h4v1h-4zM629 790h2v1h-2zM696 790h1v1h-1zM704 790h1v1h-1zM758 790h1v1h-1zM851 790h1v1h-1zM1107 790h3v1h-3zM1152 790h1v1h-1zM1240 790h4v1h-4zM1258 790h1v1h-1zM1264 790h4v1h-4zM1352 790h1v1h-1zM1362 790h10v1h-10zM1404 790h1v1h-1zM1441 790h2v1h-2zM1497 790h1v1h-1zM1513 790h2v1h-2zM1516 790h2v1h-2zM1606 790h1v1h-1zM1643 790h5v1h-5zM143 791h1v1h-1zM155 791h1v1h-1zM169 791h1v1h-1zM186 791h6v1h-6zM211 791h1v1h-1zM242 791h1v1h-1zM244 791h2v1h-2zM252 791h1v1h-1zM315 791h3v1h-3zM325 791h1v1h-1zM363 791h1v1h-1zM410 791h1v1h-1zM414 791h2v1h-2zM425 791h2v1h-2zM432 791h5v1h-5zM532 791h1v1h-1zM626 791h3v1h-3zM696 791h1v1h-1zM703 791h1v1h-1zM759 791h1v1h-1zM850 791h2v1h-2zM872 791h5v1h-5zM1106 791h1v1h-1zM1110 791h2v1h-2zM1152 791h1v1h-1zM1259 791h5v1h-5zM1268 791h2v1h-2zM1351 791h1v1h-1zM1405 791h1v1h-1zM1440 791h1v1h-1zM1498 791h1v1h-1zM1511 791h2v1h-2zM1518 791h1v1h-1zM1605 791h1v1h-1zM143 792h1v1h-1zM153 792h2v1h-2zM169 792h1v1h-1zM184 792h2v1h-2zM243 792h1v1h-1zM253 792h1v1h-1zM313 792h2v1h-2zM326 792h1v1h-1zM362 792h1v1h-1zM364 792h1v1h-1zM409 792h1v1h-1zM416 792h1v1h-1zM423 792h2v1h-2zM533 792h1v1h-1zM555 792h2v1h-2zM622 792h4v1h-4zM697 792h1v1h-1zM702 792h1v1h-1zM759 792h1v1h-1zM850 792h1v1h-1zM852 792h1v1h-1zM867 792h5v1h-5zM877 792h3v1h-3zM1106 792h1v1h-1zM1112 792h1v1h-1zM1152 792h1v1h-1zM1270 792h2v1h-2zM1282 792h2v1h-2zM1350 792h1v1h-1zM1405 792h1v1h-1zM1438 792h2v1h-2zM1498 792h1v1h-1zM1509 792h2v1h-2zM1519 792h1v1h-1zM1604 792h1v1h-1zM144 793h1v1h-1zM152 793h1v1h-1zM170 793h1v1h-1zM181 793h3v1h-3zM253 793h1v1h-1zM311 793h2v1h-2zM327 793h1v1h-1zM361 793h1v1h-1zM364 793h1v1h-1zM409 793h1v1h-1zM417 793h2v1h-2zM421 793h2v1h-2zM534 793h1v1h-1zM553 793h2v1h-2zM557 793h3v1h-3zM616 793h6v1h-6zM698 793h1v1h-1zM701 793h1v1h-1zM760 793h1v1h-1zM849 793h1v1h-1zM852 793h1v1h-1zM867 793h1v1h-1zM880 793h2v1h-2zM1105 793h1v1h-1zM1113 793h2v1h-2zM1151 793h1v1h-1zM1272 793h1v1h-1zM1280 793h2v1h-2zM1284 793h1v1h-1zM1338 793h4v1h-4zM1349 793h1v1h-1zM1406 793h1v1h-1zM1436 793h2v1h-2zM1499 793h10v1h-10zM1520 793h2v1h-2zM1576 793h5v1h-5zM1604 793h1v1h-1zM145 794h1v1h-1zM150 794h2v1h-2zM170 794h1v1h-1zM176 794h5v1h-5zM253 794h1v1h-1zM309 794h2v1h-2zM327 794h1v1h-1zM360 794h1v1h-1zM365 794h1v1h-1zM408 794h1v1h-1zM419 794h2v1h-2zM535 794h1v1h-1zM552 794h1v1h-1zM560 794h2v1h-2zM576 794h4v1h-4zM611 794h5v1h-5zM698 794h1v1h-1zM700 794h1v1h-1zM760 794h1v1h-1zM848 794h1v1h-1zM853 794h1v1h-1zM866 794h1v1h-1zM882 794h6v1h-6zM947 794h2v1h-2zM1105 794h1v1h-1zM1115 794h2v1h-2zM1151 794h1v1h-1zM1273 794h2v1h-2zM1277 794h3v1h-3zM1285 794h1v1h-1zM1334 794h4v1h-4zM1342 794h4v1h-4zM1348 794h1v1h-1zM1406 794h1v1h-1zM1435 794h1v1h-1zM1522 794h1v1h-1zM1570 794h6v1h-6zM1581 794h3v1h-3zM1603 794h1v1h-1zM146 795h1v1h-1zM148 795h2v1h-2zM171 795h5v1h-5zM253 795h1v1h-1zM307 795h2v1h-2zM328 795h1v1h-1zM359 795h1v1h-1zM365 795h1v1h-1zM408 795h1v1h-1zM535 795h1v1h-1zM550 795h2v1h-2zM562 795h14v1h-14zM580 795h1v1h-1zM610 795h1v1h-1zM699 795h1v1h-1zM760 795h1v1h-1zM847 795h1v1h-1zM853 795h1v1h-1zM866 795h1v1h-1zM888 795h8v1h-8zM945 795h2v1h-2zM949 795h2v1h-2zM1104 795h1v1h-1zM1117 795h2v1h-2zM1136 795h4v1h-4zM1150 795h1v1h-1zM1275 795h2v1h-2zM1285 795h1v1h-1zM1330 795h4v1h-4zM1346 795h2v1h-2zM1406 795h1v1h-1zM1433 795h2v1h-2zM1523 795h1v1h-1zM1568 795h2v1h-2zM1584 795h2v1h-2zM1602 795h1v1h-1zM147 796h1v1h-1zM254 796h1v1h-1zM307 796h1v1h-1zM329 796h1v1h-1zM358 796h1v1h-1zM366 796h1v1h-1zM407 796h1v1h-1zM536 796h1v1h-1zM548 796h2v1h-2zM581 796h1v1h-1zM609 796h1v1h-1zM761 796h1v1h-1zM847 796h1v1h-1zM853 796h1v1h-1zM865 796h1v1h-1zM896 796h4v1h-4zM943 796h2v1h-2zM951 796h2v1h-2zM1104 796h1v1h-1zM1119 796h2v1h-2zM1130 796h6v1h-6zM1140 796h1v1h-1zM1150 796h1v1h-1zM1286 796h1v1h-1zM1328 796h2v1h-2zM1407 796h1v1h-1zM1432 796h1v1h-1zM1524 796h1v1h-1zM1565 796h3v1h-3zM1586 796h2v1h-2zM1602 796h1v1h-1zM254 797h1v1h-1zM306 797h1v1h-1zM330 797h1v1h-1zM336 797h5v1h-5zM357 797h1v1h-1zM366 797h1v1h-1zM406 797h1v1h-1zM537 797h1v1h-1zM546 797h2v1h-2zM582 797h1v1h-1zM608 797h1v1h-1zM761 797h1v1h-1zM846 797h1v1h-1zM854 797h1v1h-1zM865 797h1v1h-1zM900 797h2v1h-2zM941 797h2v1h-2zM953 797h2v1h-2zM1104 797h1v1h-1zM1121 797h2v1h-2zM1126 797h4v1h-4zM1141 797h1v1h-1zM1150 797h1v1h-1zM1287 797h1v1h-1zM1325 797h3v1h-3zM1407 797h1v1h-1zM1430 797h2v1h-2zM1525 797h1v1h-1zM1539 797h2v1h-2zM1560 797h5v1h-5zM1588 797h1v1h-1zM1601 797h1v1h-1zM254 798h1v1h-1zM306 798h1v1h-1zM331 798h5v1h-5zM341 798h2v1h-2zM356 798h1v1h-1zM367 798h1v1h-1zM406 798h1v1h-1zM538 798h1v1h-1zM542 798h4v1h-4zM583 798h1v1h-1zM607 798h1v1h-1zM762 798h1v1h-1zM845 798h1v1h-1zM854 798h1v1h-1zM864 798h1v1h-1zM902 798h2v1h-2zM939 798h2v1h-2zM955 798h5v1h-5zM968 798h12v1h-12zM1103 798h1v1h-1zM1123 798h3v1h-3zM1142 798h1v1h-1zM1149 798h1v1h-1zM1288 798h1v1h-1zM1322 798h3v1h-3zM1408 798h1v1h-1zM1428 798h2v1h-2zM1526 798h1v1h-1zM1538 798h1v1h-1zM1541 798h3v1h-3zM1554 798h6v1h-6zM1589 798h1v1h-1zM1600 798h1v1h-1zM255 799h1v1h-1zM306 799h1v1h-1zM343 799h2v1h-2zM354 799h2v1h-2zM367 799h1v1h-1zM405 799h1v1h-1zM539 799h3v1h-3zM584 799h1v1h-1zM607 799h1v1h-1zM762 799h1v1h-1zM816 799h5v1h-5zM834 799h4v1h-4zM844 799h1v1h-1zM855 799h1v1h-1zM864 799h1v1h-1zM904 799h1v1h-1zM937 799h2v1h-2zM960 799h8v1h-8zM980 799h1v1h-1zM1103 799h1v1h-1zM1143 799h1v1h-1zM1149 799h1v1h-1zM1289 799h1v1h-1zM1318 799h4v1h-4zM1408 799h1v1h-1zM1427 799h1v1h-1zM1527 799h1v1h-1zM1536 799h2v1h-2zM1544 799h2v1h-2zM1550 799h4v1h-4zM1589 799h1v1h-1zM1600 799h1v1h-1zM255 800h1v1h-1zM306 800h1v1h-1zM345 800h2v1h-2zM350 800h4v1h-4zM368 800h1v1h-1zM405 800h1v1h-1zM585 800h1v1h-1zM606 800h1v1h-1zM763 800h1v1h-1zM811 800h5v1h-5zM821 800h3v1h-3zM832 800h2v1h-2zM838 800h4v1h-4zM844 800h1v1h-1zM855 800h1v1h-1zM863 800h1v1h-1zM905 800h2v1h-2zM936 800h1v1h-1zM981 800h1v1h-1zM1102 800h1v1h-1zM1143 800h1v1h-1zM1149 800h1v1h-1zM1289 800h1v1h-1zM1307 800h11v1h-11zM1408 800h1v1h-1zM1425 800h2v1h-2zM1528 800h1v1h-1zM1535 800h1v1h-1zM1546 800h4v1h-4zM1590 800h1v1h-1zM1599 800h1v1h-1zM255 801h1v1h-1zM305 801h1v1h-1zM347 801h3v1h-3zM368 801h1v1h-1zM404 801h1v1h-1zM586 801h1v1h-1zM605 801h1v1h-1zM763 801h2v1h-2zM810 801h1v1h-1zM824 801h2v1h-2zM829 801h3v1h-3zM842 801h2v1h-2zM855 801h1v1h-1zM863 801h1v1h-1zM907 801h2v1h-2zM923 801h3v1h-3zM934 801h2v1h-2zM981 801h1v1h-1zM1102 801h1v1h-1zM1144 801h1v1h-1zM1148 801h1v1h-1zM1290 801h1v1h-1zM1305 801h2v1h-2zM1409 801h1v1h-1zM1424 801h1v1h-1zM1529 801h1v1h-1zM1534 801h1v1h-1zM1591 801h1v1h-1zM1598 801h1v1h-1zM256 802h1v1h-1zM305 802h1v1h-1zM369 802h1v1h-1zM404 802h1v1h-1zM587 802h2v1h-2zM604 802h1v1h-1zM765 802h3v1h-3zM794 802h2v1h-2zM810 802h1v1h-1zM826 802h3v1h-3zM856 802h1v1h-1zM863 802h1v1h-1zM909 802h2v1h-2zM921 802h2v1h-2zM926 802h4v1h-4zM932 802h2v1h-2zM982 802h1v1h-1zM1102 802h1v1h-1zM1145 802h1v1h-1zM1148 802h1v1h-1zM1291 802h3v1h-3zM1303 802h2v1h-2zM1409 802h1v1h-1zM1422 802h2v1h-2zM1530 802h1v1h-1zM1532 802h2v1h-2zM1592 802h1v1h-1zM1598 802h1v1h-1zM256 803h1v1h-1zM305 803h1v1h-1zM369 803h1v1h-1zM403 803h1v1h-1zM589 803h2v1h-2zM602 803h2v1h-2zM768 803h2v1h-2zM776 803h8v1h-8zM790 803h4v1h-4zM796 803h1v1h-1zM809 803h1v1h-1zM856 803h1v1h-1zM862 803h1v1h-1zM911 803h2v1h-2zM919 803h2v1h-2zM930 803h2v1h-2zM983 803h1v1h-1zM1101 803h1v1h-1zM1146 803h2v1h-2zM1294 803h4v1h-4zM1301 803h2v1h-2zM1410 803h1v1h-1zM1420 803h2v1h-2zM1531 803h1v1h-1zM1593 803h1v1h-1zM1597 803h1v1h-1zM256 804h1v1h-1zM304 804h1v1h-1zM370 804h1v1h-1zM402 804h1v1h-1zM591 804h2v1h-2zM600 804h2v1h-2zM770 804h6v1h-6zM784 804h6v1h-6zM797 804h1v1h-1zM808 804h1v1h-1zM857 804h1v1h-1zM862 804h1v1h-1zM913 804h2v1h-2zM917 804h2v1h-2zM984 804h1v1h-1zM1101 804h1v1h-1zM1147 804h1v1h-1zM1298 804h3v1h-3zM1410 804h1v1h-1zM1418 804h2v1h-2zM1593 804h1v1h-1zM1596 804h1v1h-1zM257 805h1v1h-1zM304 805h1v1h-1zM370 805h1v1h-1zM400 805h2v1h-2zM593 805h2v1h-2zM597 805h3v1h-3zM798 805h1v1h-1zM807 805h1v1h-1zM857 805h1v1h-1zM861 805h1v1h-1zM915 805h2v1h-2zM985 805h1v1h-1zM1059 805h9v1h-9zM1100 805h1v1h-1zM1411 805h1v1h-1zM1414 805h4v1h-4zM1594 805h1v1h-1zM1596 805h1v1h-1zM257 806h1v1h-1zM304 806h1v1h-1zM371 806h3v1h-3zM399 806h1v1h-1zM595 806h2v1h-2zM799 806h1v1h-1zM807 806h1v1h-1zM857 806h1v1h-1zM861 806h1v1h-1zM985 806h1v1h-1zM1058 806h1v1h-1zM1068 806h2v1h-2zM1100 806h1v1h-1zM1411 806h3v1h-3zM1595 806h1v1h-1zM257 807h1v1h-1zM304 807h1v1h-1zM374 807h4v1h-4zM398 807h1v1h-1zM799 807h1v1h-1zM806 807h1v1h-1zM858 807h1v1h-1zM860 807h1v1h-1zM986 807h1v1h-1zM1058 807h1v1h-1zM1070 807h2v1h-2zM1099 807h1v1h-1zM257 808h1v1h-1zM303 808h1v1h-1zM378 808h2v1h-2zM396 808h2v1h-2zM800 808h1v1h-1zM805 808h1v1h-1zM858 808h1v1h-1zM860 808h1v1h-1zM987 808h1v1h-1zM1057 808h1v1h-1zM1072 808h1v1h-1zM1099 808h1v1h-1zM258 809h1v1h-1zM303 809h1v1h-1zM380 809h2v1h-2zM395 809h1v1h-1zM801 809h1v1h-1zM804 809h1v1h-1zM859 809h1v1h-1zM988 809h2v1h-2zM1057 809h1v1h-1zM1073 809h2v1h-2zM1098 809h1v1h-1zM258 810h1v1h-1zM303 810h1v1h-1zM382 810h1v1h-1zM393 810h2v1h-2zM802 810h1v1h-1zM804 810h1v1h-1zM859 810h1v1h-1zM990 810h1v1h-1zM1056 810h1v1h-1zM1075 810h2v1h-2zM1097 810h1v1h-1zM258 811h1v1h-1zM302 811h1v1h-1zM383 811h1v1h-1zM392 811h1v1h-1zM803 811h1v1h-1zM991 811h1v1h-1zM1035 811h3v1h-3zM1056 811h1v1h-1zM1077 811h3v1h-3zM1096 811h1v1h-1zM259 812h1v1h-1zM302 812h1v1h-1zM384 812h2v1h-2zM390 812h2v1h-2zM992 812h2v1h-2zM1034 812h1v1h-1zM1038 812h4v1h-4zM1055 812h1v1h-1zM1080 812h2v1h-2zM1095 812h1v1h-1zM259 813h1v1h-1zM302 813h1v1h-1zM386 813h1v1h-1zM388 813h2v1h-2zM994 813h1v1h-1zM1032 813h2v1h-2zM1042 813h2v1h-2zM1055 813h1v1h-1zM1082 813h3v1h-3zM1095 813h1v1h-1zM260 814h2v1h-2zM275 814h1v1h-1zM302 814h1v1h-1zM387 814h1v1h-1zM995 814h1v1h-1zM1031 814h1v1h-1zM1044 814h1v1h-1zM1054 814h1v1h-1zM1085 814h2v1h-2zM1094 814h1v1h-1zM262 815h1v1h-1zM273 815h2v1h-2zM276 815h2v1h-2zM301 815h1v1h-1zM996 815h1v1h-1zM1018 815h4v1h-4zM1030 815h1v1h-1zM1045 815h1v1h-1zM1054 815h1v1h-1zM1087 815h2v1h-2zM1093 815h1v1h-1zM263 816h1v1h-1zM272 816h1v1h-1zM278 816h2v1h-2zM301 816h1v1h-1zM997 816h1v1h-1zM1016 816h2v1h-2zM1022 816h4v1h-4zM1028 816h2v1h-2zM1046 816h2v1h-2zM1053 816h1v1h-1zM1089 816h2v1h-2zM1092 816h1v1h-1zM264 817h2v1h-2zM270 817h2v1h-2zM280 817h1v1h-1zM301 817h1v1h-1zM997 817h1v1h-1zM1013 817h3v1h-3zM1026 817h2v1h-2zM1048 817h1v1h-1zM1053 817h1v1h-1zM1091 817h1v1h-1zM266 818h1v1h-1zM268 818h2v1h-2zM281 818h2v1h-2zM300 818h1v1h-1zM998 818h1v1h-1zM1011 818h2v1h-2zM1049 818h1v1h-1zM1052 818h1v1h-1zM267 819h1v1h-1zM283 819h2v1h-2zM300 819h1v1h-1zM999 819h1v1h-1zM1010 819h1v1h-1zM1050 819h1v1h-1zM1052 819h1v1h-1zM285 820h2v1h-2zM300 820h1v1h-1zM1000 820h1v1h-1zM1008 820h2v1h-2zM1051 820h1v1h-1zM287 821h2v1h-2zM300 821h1v1h-1zM1001 821h1v1h-1zM1007 821h1v1h-1zM289 822h2v1h-2zM299 822h1v1h-1zM1001 822h1v1h-1zM1006 822h1v1h-1zM291 823h9v1h-9zM1002 823h1v1h-1zM1004 823h2v1h-2zM1003 824h1v1h-1z" fill="#1e90ff"/>
</g>
<path d="M5.8 35 H13 L9.4 38.9 Z" fill="#000"/>
<text x="18.5" y="40" font-size="9.8" fill="#000" stroke="#000" stroke-width="0.15" textLength="42" lengthAdjust="spacingAndGlyphs" >USOil-,H4</text>
<text x="67.3" y="40" font-size="9.8" fill="#000" stroke="#000" stroke-width="0.15" textLength="27.4" lengthAdjust="spacingAndGlyphs" >42.740</text>
<text x="98.15" y="40" font-size="9.8" fill="#000" stroke="#000" stroke-width="0.15" textLength="27.4" lengthAdjust="spacingAndGlyphs" >42.890</text>
<text x="129.0" y="40" font-size="9.8" fill="#000" stroke="#000" stroke-width="0.15" textLength="27.4" lengthAdjust="spacingAndGlyphs" >42.740</text>
<text x="159.85000000000002" y="40" font-size="9.8" fill="#000" stroke="#000" stroke-width="0.15" textLength="27.4" lengthAdjust="spacingAndGlyphs" >42.870</text>
<text x="7.5" y="577.2" font-size="9.8" fill="#000" stroke="#000" stroke-width="0.15" textLength="127" lengthAdjust="spacingAndGlyphs" >MACD(12,26,9) 0.1759 0.1258</text>
<text x="7.5" y="737.5" font-size="9.8" fill="#000" stroke="#000" stroke-width="0.15" textLength="67" lengthAdjust="spacingAndGlyphs" >RSI(14) 60.0471</text>
<text x="1694.3" y="35" font-size="9.8" fill="#000" stroke="#000" stroke-width="0.15" textLength="27" lengthAdjust="spacingAndGlyphs" >43.710</text>
<text x="1694.3" y="68" font-size="9.8" fill="#000" stroke="#000" stroke-width="0.15" textLength="27" lengthAdjust="spacingAndGlyphs" >43.380</text>
<text x="1694.3" y="101" font-size="9.8" fill="#000" stroke="#000" stroke-width="0.15" textLength="27" lengthAdjust="spacingAndGlyphs" >43.050</text>
<text x="1694.3" y="134" font-size="9.8" fill="#000" stroke="#000" stroke-width="0.15" textLength="27" lengthAdjust="spacingAndGlyphs" >42.720</text>
<text x="1694.3" y="167" font-size="9.8" fill="#000" stroke="#000" stroke-width="0.15" textLength="27" lengthAdjust="spacingAndGlyphs" >42.385</text>
<text x="1694.3" y="200" font-size="9.8" fill="#000" stroke="#000" stroke-width="0.15" textLength="27" lengthAdjust="spacingAndGlyphs" >42.055</text>
<text x="1694.3" y="233" font-size="9.8" fill="#000" stroke="#000" stroke-width="0.15" textLength="27" lengthAdjust="spacingAndGlyphs" >41.725</text>
<text x="1694.3" y="266" font-size="9.8" fill="#000" stroke="#000" stroke-width="0.15" textLength="27" lengthAdjust="spacingAndGlyphs" >41.395</text>
<text x="1694.3" y="299" font-size="9.8" fill="#000" stroke="#000" stroke-width="0.15" textLength="27" lengthAdjust="spacingAndGlyphs" >41.060</text>
<text x="1694.3" y="332" font-size="9.8" fill="#000" stroke="#000" stroke-width="0.15" textLength="27" lengthAdjust="spacingAndGlyphs" >40.730</text>
<text x="1694.3" y="365" font-size="9.8" fill="#000" stroke="#000" stroke-width="0.15" textLength="27" lengthAdjust="spacingAndGlyphs" >40.400</text>
<text x="1694.3" y="398" font-size="9.8" fill="#000" stroke="#000" stroke-width="0.15" textLength="27" lengthAdjust="spacingAndGlyphs" >40.070</text>
<text x="1694.3" y="431" font-size="9.8" fill="#000" stroke="#000" stroke-width="0.15" textLength="27" lengthAdjust="spacingAndGlyphs" >39.740</text>
<text x="1694.3" y="464" font-size="9.8" fill="#000" stroke="#000" stroke-width="0.15" textLength="27" lengthAdjust="spacingAndGlyphs" >39.405</text>
<text x="1694.3" y="497" font-size="9.8" fill="#000" stroke="#000" stroke-width="0.15" textLength="27" lengthAdjust="spacingAndGlyphs" >39.075</text>
<text x="1694.3" y="530" font-size="9.8" fill="#000" stroke="#000" stroke-width="0.15" textLength="27" lengthAdjust="spacingAndGlyphs" >38.745</text>
<text x="1694.3" y="563" font-size="9.8" fill="#000" stroke="#000" stroke-width="0.15" textLength="27" lengthAdjust="spacingAndGlyphs" >38.415</text>
<rect x="1690" y="46" width="33" height="11" fill="#ff0000" shape-rendering="crispEdges"/>
<text x="1694.3" y="55" font-size="9.8" fill="#fff" stroke="#fff" stroke-width="0.15" textLength="27" lengthAdjust="spacingAndGlyphs" >43.500</text>
<rect x="1690" y="110" width="33" height="11" fill="#000000" shape-rendering="crispEdges"/>
<text x="1694.3" y="119" font-size="9.8" fill="#fff" stroke="#fff" stroke-width="0.15" textLength="27" lengthAdjust="spacingAndGlyphs" >42.870</text>
<rect x="1690" y="295" width="33" height="11" fill="#26c326" shape-rendering="crispEdges"/>
<text x="1694.3" y="304" font-size="9.8" fill="#fff" stroke="#fff" stroke-width="0.15" textLength="27" lengthAdjust="spacingAndGlyphs" >41.000</text>
<rect x="1690" y="445" width="33" height="11" fill="#4169e1" shape-rendering="crispEdges"/>
<text x="1694.3" y="454" font-size="9.8" fill="#fff" stroke="#fff" stroke-width="0.15" textLength="27" lengthAdjust="spacingAndGlyphs" >39.500</text>
<rect x="1690" y="545" width="33" height="11" fill="#4169e1" shape-rendering="crispEdges"/>
<text x="1694.3" y="554" font-size="9.8" fill="#fff" stroke="#fff" stroke-width="0.15" textLength="27" lengthAdjust="spacingAndGlyphs" >38.500</text>
<text x="1692.5" y="575" font-size="9.8" fill="#000" stroke="#000" stroke-width="0.15" textLength="27" lengthAdjust="spacingAndGlyphs" >0.5257</text>
<text x="1692" y="663" font-size="9.8" fill="#000" stroke="#000" stroke-width="0.15" textLength="18" lengthAdjust="spacingAndGlyphs" >0.00</text>
<text x="1692.5" y="720" font-size="9.8" fill="#000" stroke="#000" stroke-width="0.15" textLength="31" lengthAdjust="spacingAndGlyphs" >-0.3603</text>
<text x="1691.5" y="735.6" font-size="9.8" fill="#000" stroke="#000" stroke-width="0.15" textLength="15" lengthAdjust="spacingAndGlyphs" >100</text>
<text x="1691.3" y="773" font-size="9.8" fill="#000" stroke="#000" stroke-width="0.15" textLength="9.8" lengthAdjust="spacingAndGlyphs" >70</text>
<text x="1691.3" y="830.8" font-size="9.8" fill="#000" stroke="#000" stroke-width="0.15" textLength="9.8" lengthAdjust="spacingAndGlyphs" >30</text>
<text x="1691.5" y="866.6" font-size="9.8" fill="#000" stroke="#000" stroke-width="0.15" >0</text>
<text x="2.6" y="883" font-size="9.8" fill="#000" stroke="#000" stroke-width="0.15" textLength="41.4" lengthAdjust="spacingAndGlyphs" >2 Jul 2020</text>
<text x="66.6" y="883" font-size="9.8" fill="#000" stroke="#000" stroke-width="0.15" textLength="44.3" lengthAdjust="spacingAndGlyphs" >3 Jul 12:00</text>
<text x="130.6" y="883" font-size="9.8" fill="#000" stroke="#000" stroke-width="0.15" textLength="44.3" lengthAdjust="spacingAndGlyphs" >6 Jul 20:00</text>
<text x="194.6" y="883" font-size="9.8" fill="#000" stroke="#000" stroke-width="0.15" textLength="44.3" lengthAdjust="spacingAndGlyphs" >8 Jul 04:00</text>
<text x="258.6" y="883" font-size="9.8" fill="#000" stroke="#000" stroke-width="0.15" textLength="44.3" lengthAdjust="spacingAndGlyphs" >9 Jul 12:00</text>
<text x="322.6" y="883" font-size="9.8" fill="#000" stroke="#000" stroke-width="0.15" textLength="48.9" lengthAdjust="spacingAndGlyphs" >10 Jul 20:00</text>
<text x="386.6" y="883" font-size="9.8" fill="#000" stroke="#000" stroke-width="0.15" textLength="48.9" lengthAdjust="spacingAndGlyphs" >14 Jul 00:00</text>
<text x="450.6" y="883" font-size="9.8" fill="#000" stroke="#000" stroke-width="0.15" textLength="48.9" lengthAdjust="spacingAndGlyphs" >15 Jul 08:00</text>
<text x="514.6" y="883" font-size="9.8" fill="#000" stroke="#000" stroke-width="0.15" textLength="48.9" lengthAdjust="spacingAndGlyphs" >16 Jul 16:00</text>
<text x="578.6" y="883" font-size="9.8" fill="#000" stroke="#000" stroke-width="0.15" textLength="48.9" lengthAdjust="spacingAndGlyphs" >19 Jul 23:00</text>
<text x="642.6" y="883" font-size="9.8" fill="#000" stroke="#000" stroke-width="0.15" textLength="48.9" lengthAdjust="spacingAndGlyphs" >21 Jul 04:00</text>
<text x="706.6" y="883" font-size="9.8" fill="#000" stroke="#000" stroke-width="0.15" textLength="48.9" lengthAdjust="spacingAndGlyphs" >22 Jul 12:00</text>
<text x="770.6" y="883" font-size="9.8" fill="#000" stroke="#000" stroke-width="0.15" textLength="48.9" lengthAdjust="spacingAndGlyphs" >23 Jul 20:00</text>
<text x="834.6" y="883" font-size="9.8" fill="#000" stroke="#000" stroke-width="0.15" textLength="48.9" lengthAdjust="spacingAndGlyphs" >27 Jul 00:00</text>
<text x="898.6" y="883" font-size="9.8" fill="#000" stroke="#000" stroke-width="0.15" textLength="48.9" lengthAdjust="spacingAndGlyphs" >28 Jul 08:00</text>
<text x="962.6" y="883" font-size="9.8" fill="#000" stroke="#000" stroke-width="0.15" textLength="48.9" lengthAdjust="spacingAndGlyphs" >29 Jul 16:00</text>
<text x="1026.6" y="883" font-size="9.8" fill="#000" stroke="#000" stroke-width="0.15" textLength="48.9" lengthAdjust="spacingAndGlyphs" >31 Jul 00:00</text>
<text x="1090.6" y="883" font-size="9.8" fill="#000" stroke="#000" stroke-width="0.15" textLength="49.5" lengthAdjust="spacingAndGlyphs" >3 Aug 04:00</text>
<text x="1154.6" y="883" font-size="9.8" fill="#000" stroke="#000" stroke-width="0.15" textLength="49.5" lengthAdjust="spacingAndGlyphs" >4 Aug 12:00</text>
<text x="1218.6" y="883" font-size="9.8" fill="#000" stroke="#000" stroke-width="0.15" textLength="49.5" lengthAdjust="spacingAndGlyphs" >5 Aug 20:00</text>
<text x="1282.6" y="883" font-size="9.8" fill="#000" stroke="#000" stroke-width="0.15" textLength="49.5" lengthAdjust="spacingAndGlyphs" >7 Aug 04:00</text>
<text x="1346.6" y="883" font-size="9.8" fill="#000" stroke="#000" stroke-width="0.15" textLength="54.6" lengthAdjust="spacingAndGlyphs" >10 Aug 08:00</text>
<text x="1410.6" y="883" font-size="9.8" fill="#000" stroke="#000" stroke-width="0.15" textLength="54.6" lengthAdjust="spacingAndGlyphs" >11 Aug 16:00</text>
<text x="1474.6" y="883" font-size="9.8" fill="#000" stroke="#000" stroke-width="0.15" textLength="54.6" lengthAdjust="spacingAndGlyphs" >13 Aug 00:00</text>
<text x="1538.6" y="883" font-size="9.8" fill="#000" stroke="#000" stroke-width="0.15" textLength="54.6" lengthAdjust="spacingAndGlyphs" >14 Aug 08:00</text>
<text x="1602.6" y="883" font-size="9.8" fill="#000" stroke="#000" stroke-width="0.15" textLength="54.6" lengthAdjust="spacingAndGlyphs" >17 Aug 12:00</text>
<text x="1666.6" y="883" font-size="9.8" fill="#000" stroke="#000" stroke-width="0.15" textLength="54.6" lengthAdjust="spacingAndGlyphs" >18 Aug 22:00</text>
<g fill="#ee1c1c">
<text x="1401.5 1438 1474.4 1510.2 1546.3 1582.2 1602.5" y="393.5" font-size="36.5" fill="#ee1c1c" style="font-family:'Liberation Sans','Noto Sans CJK SC',sans-serif">多空转折点41</text>
</g>
</svg></body></html>
